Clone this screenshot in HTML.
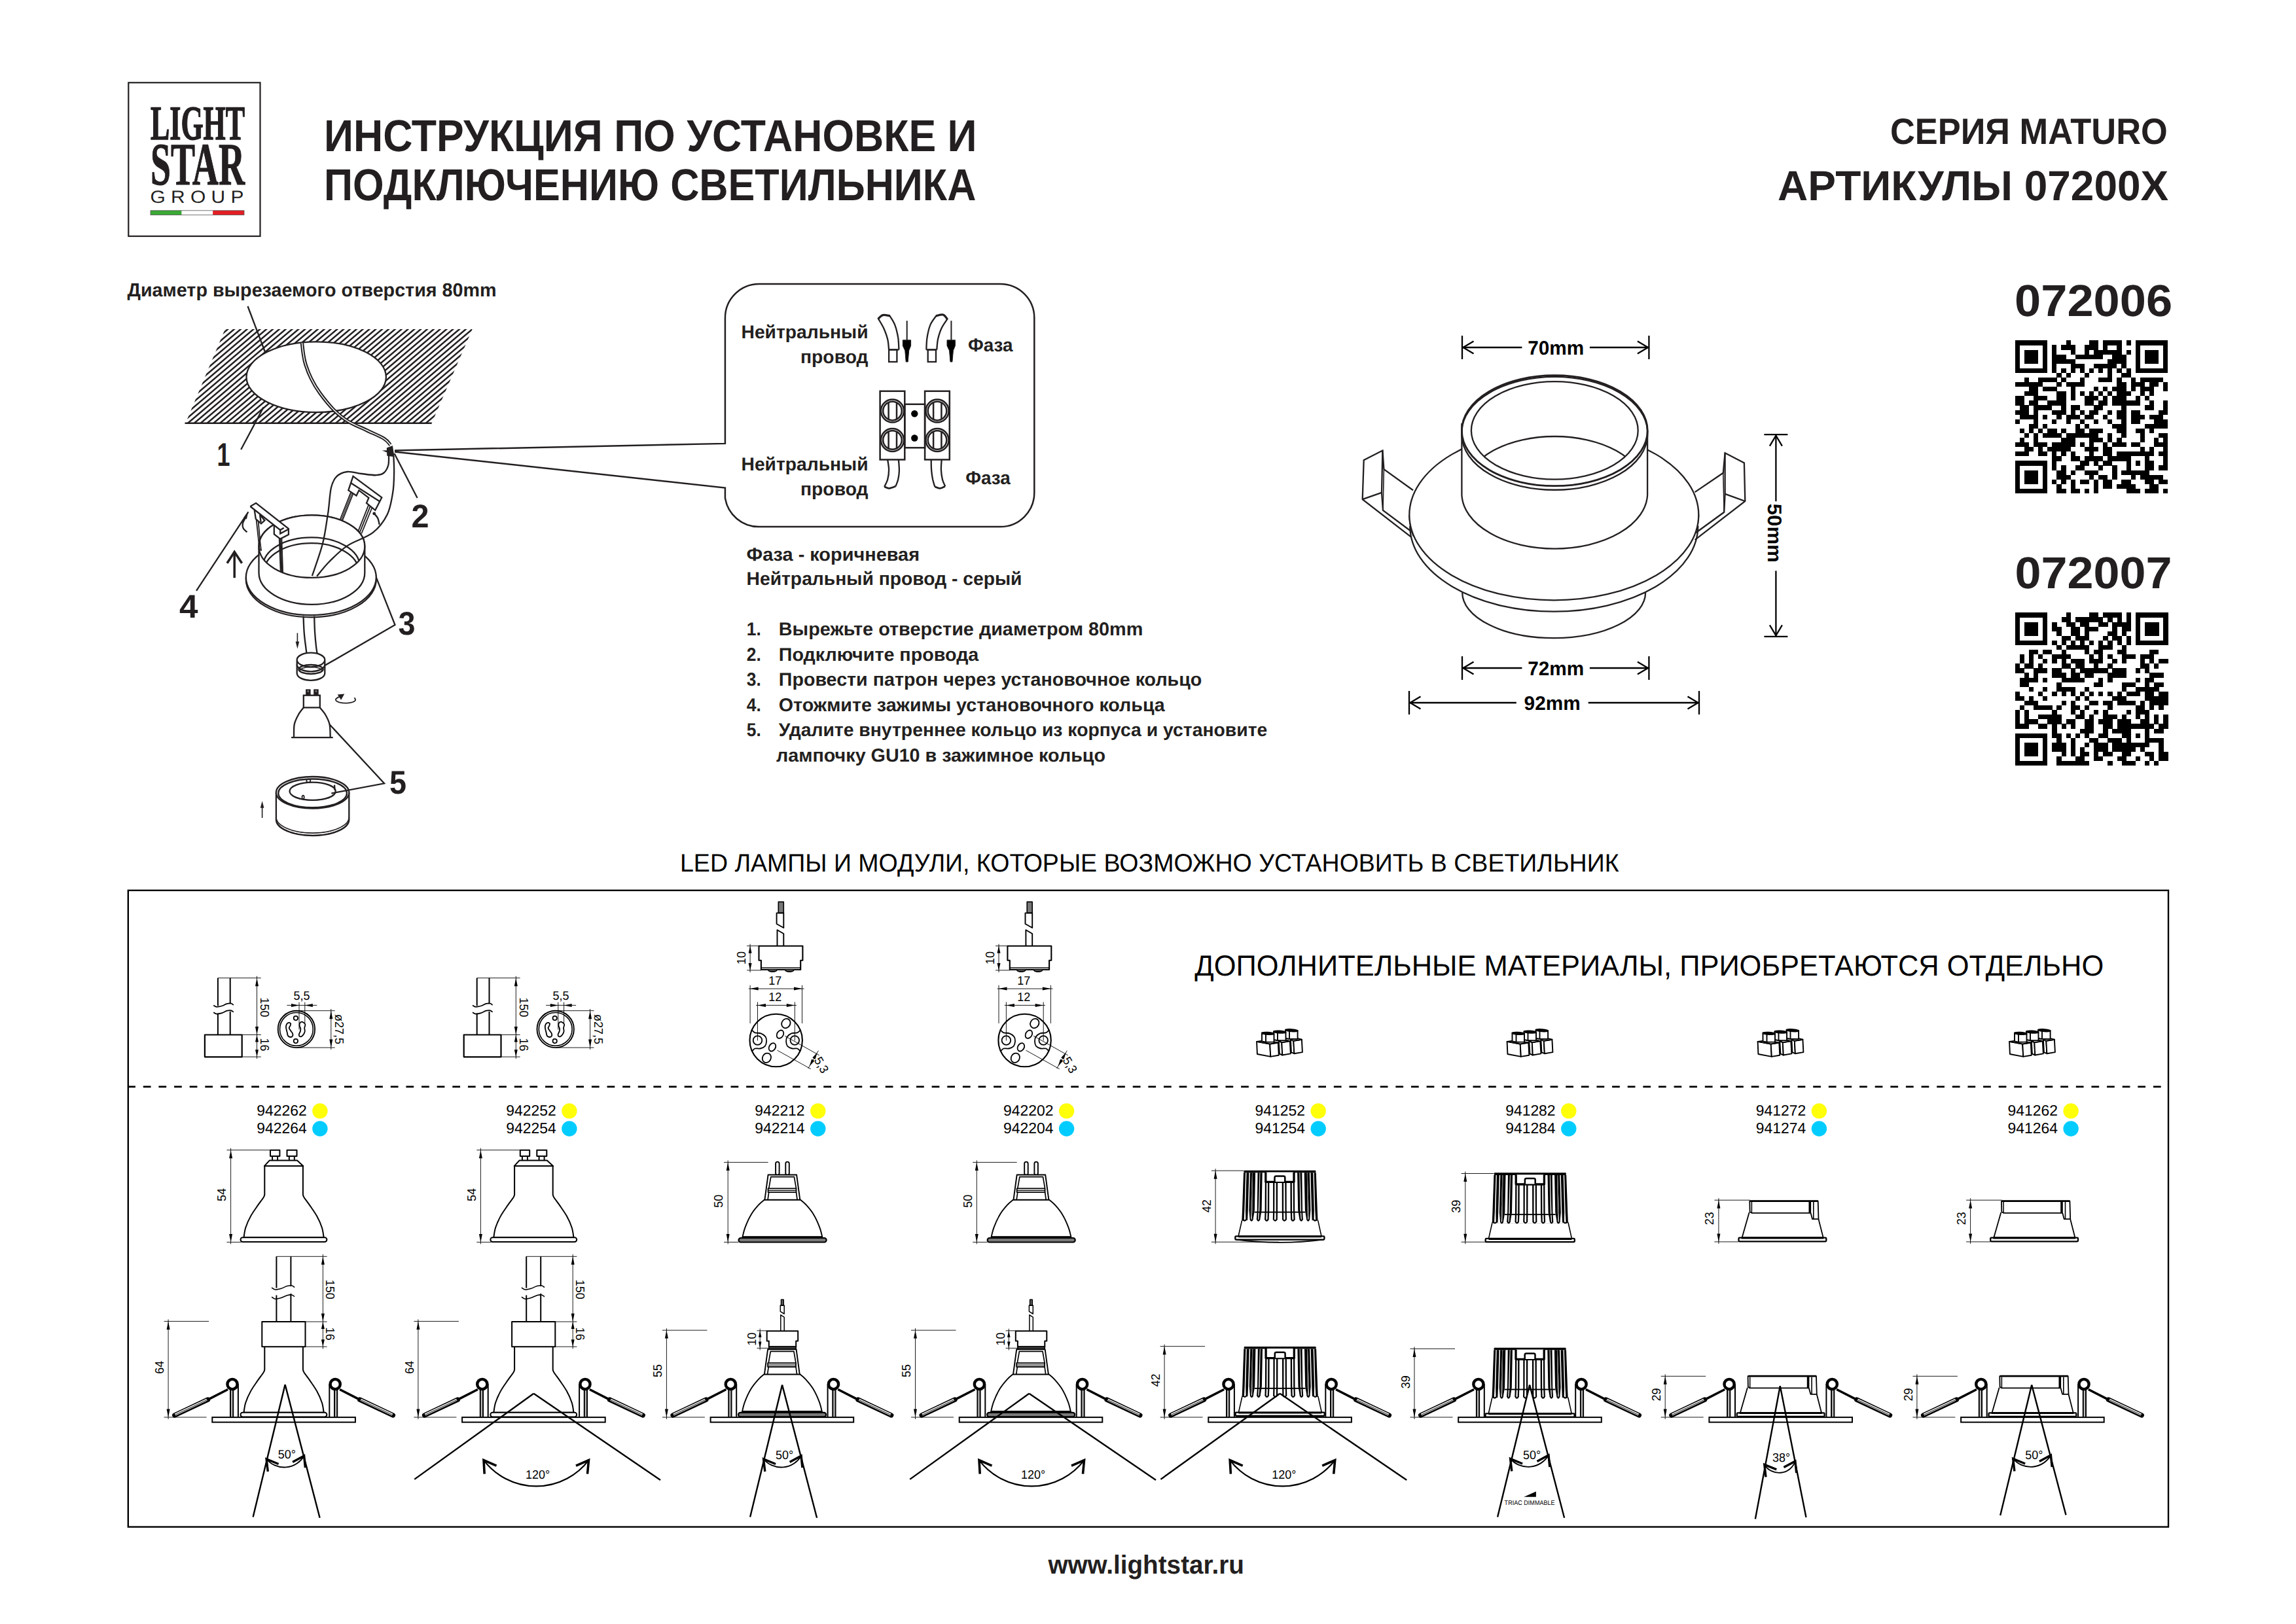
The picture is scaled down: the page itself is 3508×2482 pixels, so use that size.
<!DOCTYPE html>
<html lang="ru"><head><meta charset="utf-8"><title>Lightstar Maturo 07200X</title>
<style>
html,body{margin:0;padding:0;background:#fff;}
body{width:3508px;height:2482px;overflow:hidden;font-family:"Liberation Sans",sans-serif;}
svg{display:block;position:absolute;left:0;top:0;}
svg text{white-space:pre;}
.s{fill:none;stroke:#231f20;stroke-linecap:butt;stroke-linejoin:miter;}
.k{fill:none;stroke:#000;}
</style></head><body>
<svg xmlns="http://www.w3.org/2000/svg" width="3508" height="2482" viewBox="0 0 3508 2482" font-family="'Liberation Sans', sans-serif" fill="#231f20" stroke="none" text-rendering="geometricPrecision">
<g id="logo">
<rect x="196.3" y="126.3" width="201.2" height="234.7" stroke-width="2.2" fill="none" stroke="#231f20"/>
<text x="230" y="213" font-size="74" font-weight="700" textLength="144" lengthAdjust="spacingAndGlyphs" font-family="'Liberation Serif', serif" stroke="#231f20" stroke-width="1.5">LIGHT</text>
<text x="230" y="282" font-size="92" font-weight="700" textLength="144" lengthAdjust="spacingAndGlyphs" font-family="'Liberation Serif', serif" stroke="#231f20" stroke-width="1.2">STAR</text>
<text x="229.5" y="309.5" font-size="27" textLength="143" lengthAdjust="spacingAndGlyphs">G R O U P</text>
<rect x="230" y="321.8" width="47.6" height="6.8" fill="#3aa935"/>
<rect x="277.6" y="321.8" width="47.6" height="6.8" fill="#ffffff"/>
<rect x="325.2" y="321.8" width="47.8" height="6.8" fill="#e31e24"/>
<rect x="230" y="321.8" width="143" height="6.8" stroke-width="0.8" fill="none" stroke="#555"/>
</g>
<text x="495" y="230.8" font-size="68.4" font-weight="700" textLength="997.6" lengthAdjust="spacingAndGlyphs">ИНСТРУКЦИЯ ПО УСТАНОВКЕ И</text>
<text x="495" y="306" font-size="68.4" font-weight="700" textLength="996.4" lengthAdjust="spacingAndGlyphs">ПОДКЛЮЧЕНИЮ СВЕТИЛЬНИКА</text>
<text x="3311.8" y="219.7" font-size="55.8" font-weight="700" text-anchor="end" textLength="423.9" lengthAdjust="spacingAndGlyphs">СЕРИЯ MATURO</text>
<text x="3313.3" y="305.9" font-size="64.4" font-weight="700" text-anchor="end" textLength="597.2" lengthAdjust="spacingAndGlyphs">АРТИКУЛЫ 07200X</text>
<text x="3319.2" y="482.8" font-size="68.4" font-weight="700" text-anchor="end" textLength="241.2" lengthAdjust="spacingAndGlyphs">072006</text>
<text x="3318.5" y="898.8" font-size="68.4" font-weight="700" text-anchor="end" textLength="240" lengthAdjust="spacingAndGlyphs">072007</text>
<text x="1601.4" y="2405.3" font-size="40" font-weight="700" textLength="299.5" lengthAdjust="spacingAndGlyphs">www.lightstar.ru</text>
<text x="194.5" y="453.2" font-size="29" font-weight="700" textLength="564" lengthAdjust="spacingAndGlyphs">Диаметр вырезаемого отверстия 80mm</text>
<defs><clipPath id="hclip"><path clip-rule="evenodd" d="M343.8,503.1L721.7,503.1L659.6,646.8L283.5,646.8Z M376.5,576.2A106.7,53.9 0 1 0 589.9,576.2A106.7,53.9 0 1 0 376.5,576.2Z"/></clipPath></defs>
<g class="s" stroke-width="2.5"><path clip-path="url(#hclip)" d="M68.2,648.8L242.3,501.1M78,648.8L252.1,501.1M87.9,648.8L261.9,501.1M97.7,648.8L271.8,501.1M107.5,648.8L281.6,501.1M117.4,648.8L291.4,501.1M127.2,648.8L301.3,501.1M137,648.8L311.1,501.1M146.9,648.8L320.9,501.1M156.7,648.8L330.8,501.1M166.5,648.8L340.6,501.1M176.3,648.8L350.4,501.1M186.2,648.8L360.2,501.1M196,648.8L370.1,501.1M205.8,648.8L379.9,501.1M215.7,648.8L389.7,501.1M225.5,648.8L399.6,501.1M235.3,648.8L409.4,501.1M245.2,648.8L419.2,501.1M255,648.8L429.1,501.1M264.8,648.8L438.9,501.1M274.6,648.8L448.7,501.1M284.5,648.8L458.5,501.1M294.3,648.8L468.4,501.1M304.1,648.8L478.2,501.1M314,648.8L488,501.1M323.8,648.8L497.9,501.1M333.6,648.8L507.7,501.1M343.5,648.8L517.5,501.1M353.3,648.8L527.4,501.1M363.1,648.8L537.2,501.1M372.9,648.8L547,501.1M382.8,648.8L556.8,501.1M392.6,648.8L566.7,501.1M402.4,648.8L576.5,501.1M412.3,648.8L586.3,501.1M422.1,648.8L596.2,501.1M431.9,648.8L606,501.1M441.8,648.8L615.8,501.1M451.6,648.8L625.7,501.1M461.4,648.8L635.5,501.1M471.2,648.8L645.3,501.1M481.1,648.8L655.1,501.1M490.9,648.8L665,501.1M500.7,648.8L674.8,501.1M510.6,648.8L684.6,501.1M520.4,648.8L694.5,501.1M530.2,648.8L704.3,501.1M540.1,648.8L714.1,501.1M549.9,648.8L724,501.1M559.7,648.8L733.8,501.1M569.5,648.8L743.6,501.1M579.4,648.8L753.4,501.1M589.2,648.8L763.3,501.1M599,648.8L773.1,501.1M608.9,648.8L782.9,501.1M618.7,648.8L792.8,501.1M628.5,648.8L802.6,501.1M638.4,648.8L812.4,501.1M648.2,648.8L822.3,501.1M658,648.8L832.1,501.1"/>
<line x1="282.5" y1="646.8" x2="659.6" y2="646.8" stroke-width="2.6"/>
<ellipse cx="483.2" cy="576.2" rx="106.7" ry="53.9" stroke-width="2.3"/>
</g>
<g class="s" stroke-width="2.3">
<line x1="378.5" y1="468" x2="405" y2="538"/>
<line x1="402.6" y1="622.4" x2="368.2" y2="687"/>
<line x1="602.5" y1="693" x2="637.6" y2="761"/>
<line x1="379.4" y1="782.3" x2="300" y2="902.8"/>
<path d="M574.4,881.3L603.5,955.1L496.3,1017.1"/>
<path d="M461.4,524C461.8,527 462.7,536.4 463.6,541.9C464.5,547.4 464.9,550.9 466.9,557.1C468.9,563.3 472,571.6 475.6,578.9C479.2,586.2 482.9,592.7 488.7,600.7C494.5,608.7 503.1,619.5 510.4,626.8C517.6,634 523.9,639.1 532.2,644.2C540.5,649.3 550.9,653.1 560,657.5C569.1,661.9 580.6,666.5 586.7,670.3C592.8,674 594.9,678.4 596.5,680" stroke-width="5.4"/>
</g>
<path d="M461.4,524C461.8,527 462.7,536.4 463.6,541.9C464.5,547.4 464.9,550.9 466.9,557.1C468.9,563.3 472,571.6 475.6,578.9C479.2,586.2 482.9,592.7 488.7,600.7C494.5,608.7 503.1,619.5 510.4,626.8C517.6,634 523.9,639.1 532.2,644.2C540.5,649.3 550.9,653.1 560,657.5C569.1,661.9 580.6,666.5 586.7,670.3C592.8,674 594.9,678.4 596.5,680" stroke-width="1.4" fill="none" stroke="#fff"/>
<path d="M590.8,684.4L599.9,680.9L602.6,698.2L591.3,696.7Z" fill="#231f20"/>
<path d="M583.7,688.5L591.3,688.3L591.3,691.5Z" fill="#231f20"/>
<g class="s" stroke-width="2.3">
</g>
<g class="s" stroke-width="2.3">
<ellipse cx="475.3" cy="885.5" rx="99.5" ry="57.8" fill="#fff"/>
<ellipse cx="475.3" cy="882.3" rx="99.5" ry="57.8" fill="#fff"/>
<path d="M395.5,835.1 L395.5,875.6 A80.9,48.3 0 0 0 557.3,875.6 L557.3,835.1 A80.9,47.8 0 0 0 395.5,835.1Z" fill="#fff"/>
<defs><clipPath id="cyl"><ellipse cx="476.4" cy="835.1" rx="80.9" ry="47.8"/></clipPath></defs>
<ellipse cx="476.4" cy="835.1" rx="80.9" ry="47.8" fill="#fff"/>
<g clip-path="url(#cyl)">
<ellipse cx="475.8" cy="864.9" rx="73.7" ry="43.5"/>
<ellipse cx="475.8" cy="872.8" rx="72" ry="42.6"/>
</g>
<path d="M594,695.9C593.9,698.4 594.5,706.3 593.3,710.7C592.1,715.1 589.7,719.9 586.6,722.5C583.5,725.1 580.5,726 574.8,726.2C569.1,726.5 560,724.9 552.6,724C545.2,723.1 536.9,720.3 530.5,721C524.1,721.7 518.3,724.4 514.2,728.4C510.1,732.4 508.1,737.1 506.1,744.7C504.1,752.4 503.3,767.3 502.4,774.3C501.5,781.3 502.4,777.1 500.8,786.5C499.2,795.9 497,815.2 493,830.8C489,846.4 479.6,871.9 476.9,880.1"/>
<path d="M601.4,697.4C601.5,701.6 602.3,713.3 602.1,722.5C601.9,731.7 602,741.8 600.2,752.5C598.5,763.2 596.7,776.2 591.6,786.5C586.5,796.8 579.6,806.3 569.5,814.2C559.4,822.1 541.8,826.7 530.7,834.1C519.6,841.5 510.8,850.7 503,858.5C495.2,866.3 487.2,877 484.1,880.7"/>
<path d="M382.4,774L391.1,768.8L440.9,808.1L440.9,817L428.2,823.6L418.8,816.4L418.8,802.6" fill="#fff"/>
<path d="M382.4,774L428.2,810L428.2,815.5L440.9,808.7"/>
<path d="M428.2,810L433.7,806.7"/>
<path d="M388.8,779.8L390.8,793.1L399,800.3L404.4,795.4L397.1,786.5"/>
<path d="M397.1,786.5L398.6,798.1"/>
<path d="M391.7,794.8L396.6,840.2L399,840.8L397.7,830.8L394.6,796.5" stroke-width="1.8"/>
<path d="M426.7,823.1L428.7,873.5L432.1,874.3L430.4,823.1" stroke-width="1.8"/>
<path d="M428.4,823.6L430.4,873.8"/>
<path d="M539.5,727.8L583.3,760.4L573.3,779.8L560,768.8L563.4,760.8L548.4,749.4L544.5,757.5L532.3,749.4Z" fill="#fff"/>
<path d="M536.2,738.3L580,766.3"/>
<path d="M536.2,752.1L519.6,794" stroke-width="1.8"/>
<path d="M539.8,753.8L523.1,795.6" stroke-width="1.8"/>
<path d="M538,752.9L521.4,794.8" stroke-width="1.2"/>
<path d="M563,772.1L547.3,811.8" stroke-width="1.8"/>
<path d="M565.6,774.1L549.7,813.6" stroke-width="1.8"/>
<path d="M568.4,776L552.3,815.5" stroke-width="1.8"/>
<path d="M377.5,813.3C376.6,812.3 372.8,809.8 371.7,807.5C370.6,805.3 370.3,802.6 370.9,799.8C371.5,797 374.6,792.4 375.3,790.9"/>
<path d="M572.2,785.4C573.1,786.5 576,789.3 577.2,792C578.5,794.8 579.3,800.2 579.7,801.8"/>
</g>
<path d="M379.3,782.3L372.2,790.9L376.9,793.4Z" fill="#231f20"/>
<circle cx="571.7" cy="784.9" r="2.4" fill="#231f20"/>
<g class="s" stroke-width="3.5">
<line x1="358.2" y1="883.2" x2="358.2" y2="845"/>
<path d="M347,860.7L358.2,843.5L369.6,860.7"/>
</g>
<g class="s" stroke-width="2.3">
<path d="M463.5,941.5C463.7,945.7 464.1,959.1 464.7,966.8C465.3,974.5 466.4,982.6 467.1,987.9C467.7,993.1 468.2,996.6 468.5,998.4"/>
<path d="M480.2,941.5C480.3,945.7 480.6,959.1 481.1,966.8C481.6,974.5 482.4,982.6 483,987.9C483.5,993.1 484.3,996.6 484.6,998.4"/>
<path d="M453.7,1008.5 L453.7,1029 A21.3,10.8 0 0 0 496.3,1029 L496.3,1008.5 A21.3,10.8 0 0 0 453.7,1008.5 A21.3,10.8 0 0 0 496.3,1008.5" fill="#fff"/>
<path d="M453.7,1015.5 A21.3,10.8 0 0 0 496.3,1015.5"/>
<ellipse cx="475" cy="1023" rx="18.7" ry="7"/>
<ellipse cx="475" cy="1024.6" rx="16.8" ry="5.1" stroke-width="1.6"/>
<rect x="463.8" y="1062.7" width="25" height="18.7"/>
<path d="M463.8,1081.5C462.5,1083.2 458.4,1087.7 456.1,1092C453.7,1096.3 450.9,1101.4 449.7,1107.2C448.6,1113.1 449.2,1123.8 449,1127.1"/>
<path d="M488.8,1081.5C490.2,1083.2 494.5,1087.7 497,1092C499.5,1096.3 502.3,1101.4 503.6,1107.2C504.8,1113.1 504.5,1123.8 504.7,1127.1"/>
<path d="M445.1,1127.1L508.7,1127.1"/>
<path d="M541.5,1066.3C541.7,1067 544.2,1069.6 542.6,1070.9C541.1,1072.3 536.2,1074.1 532.1,1074.4C528,1074.8 521.3,1074.1 518.1,1073.3C514.9,1072.4 513.1,1070.6 512.9,1069.3C512.7,1068 515.3,1066.5 516.9,1065.6C518.5,1064.7 521.8,1064.2 522.7,1063.9" stroke-width="1.8"/>
<path d="M421.9,1211.3 L421.9,1252.8 A55.7,24.3 0 0 0 533.3,1252.8 L533.3,1211.3" fill="#fff"/>
<path d="M421.9,1248.8 A55.7,24.3 0 0 0 533.3,1248.8" stroke-width="1.6"/>
<path d="M422.9,1256.8 A55.7,24.3 0 0 0 532.3,1256.8" stroke-width="1.6"/>
<ellipse cx="477.6" cy="1211.3" rx="55.7" ry="24.3" fill="#fff"/>
<ellipse cx="477.6" cy="1212.3" rx="52.4" ry="21.8"/>
<ellipse cx="477.6" cy="1209.2" rx="35.1" ry="13.6"/>
<path d="M445.5,1214.4 A32.8,10.5 0 0 0 509.9,1214.4" stroke-width="1.6"/>
<ellipse cx="471.3" cy="1193.3" rx="3" ry="2.6" stroke-width="1.8"/>
<ellipse cx="463.1" cy="1218.4" rx="1.6" ry="2.8" stroke-width="1.8"/>
<path d="M511,1199.6L511.5,1207.8"/>
<path d="M503.6,1107.2L587.1,1197.3L506.4,1212.5"/>
</g>
<rect x="467.1" y="1053.4" width="7.5" height="8.9" fill="#231f20"/>
<rect x="479.2" y="1053.4" width="7.5" height="8.9" fill="#231f20"/>
<rect x="469.6" y="1055.3" width="2.3" height="2.3" fill="#888"/>
<rect x="481.8" y="1055.3" width="2.3" height="2.3" fill="#888"/>
<path d="M515.7,1061.6L526.3,1060.4L521.1,1069.8Z" fill="#231f20"/>
<g class="s" stroke-width="1.6">
<line x1="454.4" y1="967.5" x2="454.4" y2="984.4"/>
<line x1="400.6" y1="1250" x2="400.6" y2="1232.4"/>
</g>
<path d="M451.6,980.4L457.2,980.4L454.4,991.4Z" fill="#231f20"/>
<path d="M397.8,1234.7L403.4,1234.7L400.6,1224.2Z" fill="#231f20"/>
<text x="331.5" y="711.7" font-size="50" font-weight="700" textLength="20" lengthAdjust="spacingAndGlyphs">1</text>
<text x="628.5" y="805.8" font-size="50" font-weight="700" textLength="27" lengthAdjust="spacingAndGlyphs">2</text>
<text x="608.5" y="969.5" font-size="50" font-weight="700" textLength="26" lengthAdjust="spacingAndGlyphs">3</text>
<text x="274" y="944" font-size="50" font-weight="700" textLength="28.5" lengthAdjust="spacingAndGlyphs">4</text>
<text x="595" y="1213" font-size="50" font-weight="700" textLength="26" lengthAdjust="spacingAndGlyphs">5</text>
<g id="callout" class="s" stroke-width="2.5">
<path d="M603,688.5 L1107.9,677.9 L1107.9,486 A52,52 0 0 1 1159.9,434 L1528.3,434 A52,52 0 0 1 1580.3,486 L1580.3,753 A52,52 0 0 1 1528.3,805 L1159.9,805 A52,52 0 0 1 1107.9,761 L1107.9,745.6 L603,690.5"/>
<rect x="1344.6" y="597.8" width="37.7" height="104.7"/>
<rect x="1413.1" y="597.8" width="37.7" height="104.7"/>
<rect x="1382.3" y="617.8" width="30.8" height="66.5"/>
<circle cx="1363.5" cy="628.1" r="17.5" fill="#fff"/>
<circle cx="1363.5" cy="628.1" r="14.3"/>
<line x1="1357.6" y1="615.1" x2="1357.6" y2="641.1"/>
<line x1="1370" y1="615.4" x2="1370" y2="640.9"/>
<circle cx="1363.5" cy="672.5" r="17.5" fill="#fff"/>
<circle cx="1363.5" cy="672.5" r="14.3"/>
<line x1="1357.6" y1="659.5" x2="1357.6" y2="685.5"/>
<line x1="1370" y1="659.7" x2="1370" y2="685.2"/>
<circle cx="1432" cy="628.1" r="17.5" fill="#fff"/>
<circle cx="1432" cy="628.1" r="14.3"/>
<line x1="1426.1" y1="615.1" x2="1426.1" y2="641.1"/>
<line x1="1438.4" y1="615.4" x2="1438.4" y2="640.9"/>
<circle cx="1432" cy="672.5" r="17.5" fill="#fff"/>
<circle cx="1432" cy="672.5" r="14.3"/>
<line x1="1426.1" y1="659.5" x2="1426.1" y2="685.5"/>
<line x1="1438.4" y1="659.7" x2="1438.4" y2="685.2"/>
</g>
<circle cx="1397.3" cy="632.3" r="5.2" fill="#000"/>
<circle cx="1397.3" cy="669.5" r="5.2" fill="#000"/>
<g class="s" stroke-width="2.3">
<path d="M1341.9,487C1343.2,489.4 1347.6,496 1350,501.3C1352.4,506.5 1354.8,513 1356.2,518.5C1357.5,524.1 1357.8,531.9 1358.1,534.5"/>
<path d="M1358.6,481.6C1360.1,484 1365,490.6 1367.2,496.4C1369.5,502.1 1371.1,509.7 1372.2,516.1C1373.2,522.4 1373.2,531.5 1373.4,534.5"/>
<path d="M1358.1,534.5L1373.4,534.5"/>
<path d="M1341.4,487.7C1342.6,486.7 1345.7,482.4 1348.8,481.6C1351.8,480.8 1358,482.6 1359.9,482.8" stroke-width="3.2"/>
<rect x="1358.1" y="534.5" width="12.3" height="18.5"/>
<path d="M1431.3,481.6C1429.6,484 1423.9,490.6 1421.4,496.4C1419,502.1 1417.5,509.7 1416.5,516.1C1415.5,522.4 1415.5,531.5 1415.3,534.5"/>
<path d="M1447.3,487.7C1445.9,490 1441.1,496.1 1438.7,501.3C1436.3,506.4 1434.2,513 1433,518.5C1431.8,524.1 1431.6,531.9 1431.3,534.5"/>
<path d="M1415.3,534.5L1431.3,534.5"/>
<path d="M1430,482.8C1431.9,482.5 1438.2,480.1 1441.1,481.1C1444.1,482 1446.7,487.2 1447.8,488.5" stroke-width="3.2"/>
<rect x="1417.7" y="534.5" width="12.3" height="18.5"/>
<line x1="1385.7" y1="490.2" x2="1385.7" y2="521" stroke-width="2"/>
<path d="M1379.3,519.8L1391.6,519.8L1391.6,528.4L1388.7,535.8L1387.2,553L1384.2,553L1382.8,535.8L1379.3,528.4Z" stroke-width="1" fill="#000"/>
<line x1="1453.4" y1="490.2" x2="1453.4" y2="521" stroke-width="2"/>
<path d="M1447,519.8L1459.4,519.8L1459.4,528.4L1456.4,535.8L1454.9,553L1452,553L1450.5,535.8L1447,528.4Z" stroke-width="1" fill="#000"/>
<path d="M1356.2,702.5C1356.5,705.1 1358.1,713 1358.1,718C1358.1,723.1 1357.3,728.5 1356.2,732.8C1355,737.1 1352.1,742 1351.2,743.9"/>
<path d="M1372.9,702.5C1373.1,705.3 1374,714.2 1373.9,719.3C1373.8,724.3 1373.1,728.8 1372.2,732.8C1371.3,736.8 1369.1,741.4 1368.5,743.2"/>
<path d="M1351.2,743.9C1352.5,744.3 1355.7,746.5 1358.6,746.4C1361.5,746.2 1366.8,743.7 1368.5,743.2" stroke-width="2.8"/>
<path d="M1422.7,702.5C1422.7,705.3 1422.7,714.2 1423.2,719.3C1423.6,724.3 1424.3,728.7 1425.1,732.8C1426,736.9 1427.8,742 1428.3,743.9"/>
<path d="M1438.7,702.5C1438.5,705.1 1437.7,713 1437.9,718C1438.1,723.1 1438.9,728.6 1439.9,732.8C1440.9,737 1443.4,741.4 1444.1,743.2"/>
<path d="M1428.3,743.9C1429.6,744.3 1433.6,746.5 1436.2,746.4C1438.8,746.2 1442.8,743.7 1444.1,743.2" stroke-width="2.8"/>
</g>
<text x="1326.5" y="516.6" font-size="28.5" font-weight="700" text-anchor="end" textLength="194" lengthAdjust="spacingAndGlyphs">Нейтральный</text>
<text x="1326.5" y="555" font-size="28.5" font-weight="700" text-anchor="end" textLength="103.5" lengthAdjust="spacingAndGlyphs">провод</text>
<text x="1479" y="537" font-size="28.5" font-weight="700" textLength="68.5" lengthAdjust="spacingAndGlyphs">Фаза</text>
<text x="1326.5" y="719.3" font-size="28.5" font-weight="700" text-anchor="end" textLength="194" lengthAdjust="spacingAndGlyphs">Нейтральный</text>
<text x="1326.5" y="757.4" font-size="28.5" font-weight="700" text-anchor="end" textLength="103.5" lengthAdjust="spacingAndGlyphs">провод</text>
<text x="1475.3" y="739.5" font-size="28.5" font-weight="700" textLength="68.5" lengthAdjust="spacingAndGlyphs">Фаза</text>
<text x="1140.5" y="856.6" font-size="28.5" font-weight="700" textLength="264.5" lengthAdjust="spacingAndGlyphs">Фаза - коричневая</text>
<text x="1140.5" y="893.9" font-size="28.5" font-weight="700" textLength="421" lengthAdjust="spacingAndGlyphs">Нейтральный провод - серый</text>
<text x="1140.8" y="971.4000000000001" font-size="28.5" font-weight="700" textLength="22" lengthAdjust="spacingAndGlyphs">1.</text>
<text x="1189.8" y="971.4000000000001" font-size="28.5" font-weight="700" textLength="556.5" lengthAdjust="spacingAndGlyphs">Вырежьте отверстие диаметром 80mm</text>
<text x="1140.8" y="1009.8000000000001" font-size="28.5" font-weight="700" textLength="22" lengthAdjust="spacingAndGlyphs">2.</text>
<text x="1189.8" y="1009.8000000000001" font-size="28.5" font-weight="700" textLength="305.5" lengthAdjust="spacingAndGlyphs">Подключите провода</text>
<text x="1140.8" y="1048.3" font-size="28.5" font-weight="700" textLength="22" lengthAdjust="spacingAndGlyphs">3.</text>
<text x="1189.8" y="1048.3" font-size="28.5" font-weight="700" textLength="646.5" lengthAdjust="spacingAndGlyphs">Провести патрон через установочное кольцо</text>
<text x="1140.8" y="1086.7" font-size="28.5" font-weight="700" textLength="22" lengthAdjust="spacingAndGlyphs">4.</text>
<text x="1189.8" y="1086.7" font-size="28.5" font-weight="700" textLength="590" lengthAdjust="spacingAndGlyphs">Отожмите зажимы установочного кольца</text>
<text x="1140.8" y="1125.1000000000001" font-size="28.5" font-weight="700" textLength="22" lengthAdjust="spacingAndGlyphs">5.</text>
<text x="1189.8" y="1125.1000000000001" font-size="28.5" font-weight="700" textLength="746.5" lengthAdjust="spacingAndGlyphs">Удалите внутреннее кольцо из корпуса и установите</text>
<text x="1186" y="1163.5" font-size="28.5" font-weight="700" textLength="503" lengthAdjust="spacingAndGlyphs">лампочку GU10 в зажимное кольцо</text>
<g class="s" stroke-width="2.3">
<path d="M2159,749.3L2114.4,717.2L2112.4,688.5L2083.7,703.3L2081.7,763.2L2156.2,820.9"/>
<path d="M2112.4,688.5L2111,752.9L2113,780L2155.3,811.5"/>
<path d="M2081.7,763.2L2111,752.9"/>
<path d="M2114.4,717.2L2113,780" stroke-width="1.6"/>
<path d="M2589.6,752.1L2632.8,722.8L2635.6,692.2L2664.9,707.5L2666.3,766L2589.6,825.1"/>
<path d="M2635.6,692.2L2635.6,754.9L2634.2,782.8L2591,814.3"/>
<path d="M2666.3,766L2635.6,754.9"/>
<path d="M2632.8,722.8L2634.2,782.8" stroke-width="1.6"/>
<path d="M2153.2,786.9 L2154.2,797.3 A221,130.5 0 0 0 2594.3,797.3 L2595.3,786.9" fill="#fff"/>
<path d="M2234.2,905.7 A139.9,69.4 0 0 0 2514.1,905.7" fill="#fff"/>
<path d="M2153.2,786.9 C2153.2,804.2 2156.2,812.9 2159.2,819.8" stroke-width="1.2"/>
<ellipse cx="2374.3" cy="786.9" rx="221" ry="130.5" fill="#fff"/>
<defs><clipPath id="pf"><rect x="2148.2" y="803.7" width="452.1" height="157.7"/></clipPath></defs>
<ellipse cx="2374.3" cy="804.2" rx="220" ry="130.5" clip-path="url(#pf)"/>
<path d="M2233.4,658.2 L2233.4,756.3 A141.9,84.5 0 0 0 2517.1,756.3 L2517.1,658.2 A141.9,84.5 0 0 0 2233.4,658.2Z" fill="#fff"/>
<path d="M2233.4,647 L2233.4,666.5 A141.9,84.5 0 0 0 2517.1,666.5 L2517.1,658.2"/>
<ellipse cx="2375.3" cy="658.2" rx="141.9" ry="84.5" stroke-width="2.8"/>
<ellipse cx="2375.3" cy="657.9" rx="127.4" ry="74.7"/>
<defs><clipPath id="pin"><ellipse cx="2375.3" cy="657.9" rx="127.4" ry="74.7"/></clipPath></defs>
<ellipse cx="2375.3" cy="742.3" rx="133.8" ry="75.3" clip-path="url(#pin)"/>
</g>
<g class="k" stroke-width="2.3">
<line x1="2234" y1="513" x2="2234" y2="549"/>
<line x1="2519.4" y1="513" x2="2519.4" y2="549"/>
<line x1="2235" y1="531" x2="2325.4" y2="531"/>
<line x1="2428.9" y1="531" x2="2518.4" y2="531"/>
<path d="M2251.5,521.5L2235.5,531L2251.5,540.5"/>
<path d="M2501.9,521.5L2517.9,531L2501.9,540.5"/>
<line x1="2234" y1="1003" x2="2234" y2="1039"/>
<line x1="2519.4" y1="1003" x2="2519.4" y2="1039"/>
<line x1="2235" y1="1021" x2="2325.4" y2="1021"/>
<line x1="2428.9" y1="1021" x2="2518.4" y2="1021"/>
<path d="M2251.5,1011.5L2235.5,1021L2251.5,1030.5"/>
<path d="M2501.9,1011.5L2517.9,1021L2501.9,1030.5"/>
<line x1="2153" y1="1056" x2="2153" y2="1092"/>
<line x1="2596" y1="1056" x2="2596" y2="1092"/>
<line x1="2154" y1="1074" x2="2316.8" y2="1074"/>
<line x1="2426.7" y1="1074" x2="2595" y2="1074"/>
<path d="M2170.5,1064.5L2154.5,1074L2170.5,1083.5"/>
<path d="M2578.5,1064.5L2594.5,1074L2578.5,1083.5"/>
<line x1="2695.4" y1="664.2" x2="2731.4" y2="664.2"/>
<line x1="2695.4" y1="972.8" x2="2731.4" y2="972.8"/>
<line x1="2713.4" y1="665.2" x2="2713.4" y2="766.2"/>
<line x1="2713.4" y1="872.4" x2="2713.4" y2="971.8"/>
<path d="M2703.9,681.7L2713.4,665.7L2722.9,681.7"/>
<path d="M2703.9,955.3L2713.4,971.3L2722.9,955.3"/>
</g>
<text x="2377.2" y="541.5" font-size="30" font-weight="700" text-anchor="middle" textLength="86" lengthAdjust="spacingAndGlyphs" fill="#000">70mm</text>
<text x="2377.2" y="1032" font-size="30" font-weight="700" text-anchor="middle" textLength="86" lengthAdjust="spacingAndGlyphs" fill="#000">72mm</text>
<text x="2371.6" y="1084.5" font-size="30" font-weight="700" text-anchor="middle" textLength="86" lengthAdjust="spacingAndGlyphs" fill="#000">92mm</text>
<text transform="translate(2701.2000000000003,814.8) rotate(90)" font-size="30" font-weight="700" text-anchor="middle" textLength="90" lengthAdjust="spacingAndGlyphs" fill="#000">50mm</text>
<rect x="195.8" y="1360.8" width="3117.2" height="972.8" fill="none" stroke="#000" stroke-width="2.4"/>
<line x1="195.18" y1="1660.8" x2="3312" y2="1660.8" stroke="#000" stroke-width="2.7" stroke-dasharray="11.75 11.874"/>
<text x="1039" y="1331.6" font-size="38.7" textLength="1434.5" lengthAdjust="spacingAndGlyphs" fill="#000">LED ЛАМПЫ И МОДУЛИ, КОТОРЫЕ ВОЗМОЖНО УСТАНОВИТЬ В СВЕТИЛЬНИК</text>
<text x="1825.3" y="1490.6" font-size="44.3" textLength="1389" lengthAdjust="spacingAndGlyphs" fill="#000">ДОПОЛНИТЕЛЬНЫЕ МАТЕРИАЛЫ, ПРИОБРЕТАЮТСЯ ОТДЕЛЬНО</text>
<text x="392.3" y="1705.1" font-size="23" textLength="76.4" lengthAdjust="spacingAndGlyphs" fill="#000">942262</text>
<text x="392.3" y="1731.6" font-size="23" textLength="76.4" lengthAdjust="spacingAndGlyphs" fill="#000">942264</text>
<circle cx="488.9" cy="1697.9" r="11.7" fill="#ffff0a"/>
<circle cx="488.9" cy="1725" r="11.7" fill="#00ccff"/>
<text x="773.3" y="1705.1" font-size="23" textLength="76.4" lengthAdjust="spacingAndGlyphs" fill="#000">942252</text>
<text x="773.3" y="1731.6" font-size="23" textLength="76.4" lengthAdjust="spacingAndGlyphs" fill="#000">942254</text>
<circle cx="869.9" cy="1697.9" r="11.7" fill="#ffff0a"/>
<circle cx="869.9" cy="1725" r="11.7" fill="#00ccff"/>
<text x="1153.2" y="1705.1" font-size="23" textLength="76.4" lengthAdjust="spacingAndGlyphs" fill="#000">942212</text>
<text x="1153.2" y="1731.6" font-size="23" textLength="76.4" lengthAdjust="spacingAndGlyphs" fill="#000">942214</text>
<circle cx="1249.8" cy="1697.9" r="11.7" fill="#ffff0a"/>
<circle cx="1249.8" cy="1725" r="11.7" fill="#00ccff"/>
<text x="1533" y="1705.1" font-size="23" textLength="76.4" lengthAdjust="spacingAndGlyphs" fill="#000">942202</text>
<text x="1533" y="1731.6" font-size="23" textLength="76.4" lengthAdjust="spacingAndGlyphs" fill="#000">942204</text>
<circle cx="1629.6" cy="1697.9" r="11.7" fill="#ffff0a"/>
<circle cx="1629.6" cy="1725" r="11.7" fill="#00ccff"/>
<text x="1917.6" y="1705.1" font-size="23" textLength="76.4" lengthAdjust="spacingAndGlyphs" fill="#000">941252</text>
<text x="1917.6" y="1731.6" font-size="23" textLength="76.4" lengthAdjust="spacingAndGlyphs" fill="#000">941254</text>
<circle cx="2014.2" cy="1697.9" r="11.7" fill="#ffff0a"/>
<circle cx="2014.2" cy="1725" r="11.7" fill="#00ccff"/>
<text x="2300.2" y="1705.1" font-size="23" textLength="76.4" lengthAdjust="spacingAndGlyphs" fill="#000">941282</text>
<text x="2300.2" y="1731.6" font-size="23" textLength="76.4" lengthAdjust="spacingAndGlyphs" fill="#000">941284</text>
<circle cx="2396.8" cy="1697.9" r="11.7" fill="#ffff0a"/>
<circle cx="2396.8" cy="1725" r="11.7" fill="#00ccff"/>
<text x="2682.8" y="1705.1" font-size="23" textLength="76.4" lengthAdjust="spacingAndGlyphs" fill="#000">941272</text>
<text x="2682.8" y="1731.6" font-size="23" textLength="76.4" lengthAdjust="spacingAndGlyphs" fill="#000">941274</text>
<circle cx="2779.4" cy="1697.9" r="11.7" fill="#ffff0a"/>
<circle cx="2779.4" cy="1725" r="11.7" fill="#00ccff"/>
<text x="3067.5" y="1705.1" font-size="23" textLength="76.4" lengthAdjust="spacingAndGlyphs" fill="#000">941262</text>
<text x="3067.5" y="1731.6" font-size="23" textLength="76.4" lengthAdjust="spacingAndGlyphs" fill="#000">941264</text>
<circle cx="3164.1" cy="1697.9" r="11.7" fill="#ffff0a"/>
<circle cx="3164.1" cy="1725" r="11.7" fill="#00ccff"/>
<g class="k" stroke-width="2.0" stroke-linejoin="round">
<rect x="312.9" y="1581.5" width="56.8" height="33.8" stroke-width="2.2"/>
<line x1="332.9" y1="1494.7" x2="332.9" y2="1537.4"/>
<line x1="332.9" y1="1548.6" x2="332.9" y2="1581.5"/>
<line x1="351.7" y1="1494.7" x2="351.7" y2="1534.4"/>
<line x1="351.7" y1="1545.8" x2="351.7" y2="1581.5"/>
<path d="M326.2,1536.4C327,1536.8 329,1538.7 331.2,1538.8C333.4,1538.9 336.8,1538 339.4,1537.3C341.9,1536.5 344.2,1534.7 346.4,1534.1C348.7,1533.5 351.2,1533.2 352.9,1533.5C354.6,1533.8 356.1,1535.5 356.8,1535.9" stroke-width="1.7"/>
<path d="M326.2,1547.3C327,1547.7 329,1549.5 331.2,1549.6C333.4,1549.7 336.8,1548.9 339.4,1548.1C341.9,1547.3 344.2,1545.5 346.4,1544.9C348.7,1544.3 351.2,1544 352.9,1544.3C354.6,1544.6 356.1,1546.3 356.8,1546.7" stroke-width="1.7"/>
<circle cx="452.9" cy="1572.9" r="28.2" stroke-width="1.9"/>
<circle cx="452.9" cy="1572.9" r="25.4" stroke-width="1.6"/>
<circle cx="451.9" cy="1556.1" r="3.2" stroke-width="1.8"/>
<circle cx="451.9" cy="1591.1" r="3.2" stroke-width="1.8"/>
<path d="M441.7,1562.9C442.1,1563.1 443.8,1563.3 444.1,1564.1C444.3,1564.9 443.9,1566.4 443.5,1567.6C443.1,1568.8 441.6,1569.9 441.7,1571.1C441.8,1572.4 443.2,1573.9 444.1,1575.2C444.9,1576.6 446.5,1578 447,1579.4C447.5,1580.7 447.6,1582.5 447,1583.5C446.4,1584.4 444.6,1585.1 443.5,1585C442.3,1584.9 440.7,1584 439.9,1582.9C439.2,1581.8 439.2,1579.8 438.8,1578.2C438.4,1576.6 437.9,1575.1 437.6,1573.5C437.3,1571.9 436.8,1570.3 437,1568.8C437.2,1567.2 438,1565.1 438.8,1564.1C439.5,1563.1 441.2,1563.1 441.7,1562.9Z" stroke-width="1.8"/>
<path d="M464,1562.9C464.4,1563.4 466.2,1564.5 466.4,1565.8C466.6,1567.2 465.3,1569.5 465.2,1571.1C465.1,1572.8 466,1574.3 465.8,1575.8C465.6,1577.4 464.9,1579.2 464,1580.5C463.2,1581.9 461.6,1583.5 460.5,1584.1C459.4,1584.6 458.2,1584.3 457.6,1583.8C456.9,1583.3 456.6,1582.4 456.8,1581.1C456.9,1579.9 458.3,1577.9 458.8,1576.4C459.2,1575 459.5,1573.8 459.3,1572.3C459.1,1570.8 457.8,1569.1 457.6,1567.6C457.4,1566.1 457.6,1564.5 458.2,1563.5C458.8,1562.5 460.1,1561.8 461.1,1561.7C462.1,1561.6 463.6,1562.7 464,1562.9Z" stroke-width="1.8"/>
</g>
<line x1="332.9" y1="1494.7" x2="398.8" y2="1494.7" stroke="#000" stroke-width="0.9"/>
<line x1="369.7" y1="1581.5" x2="398.8" y2="1581.5" stroke="#000" stroke-width="0.9"/>
<line x1="369.7" y1="1615.2" x2="398.8" y2="1615.2" stroke="#000" stroke-width="0.9"/>
<line x1="392.5" y1="1491.8" x2="392.5" y2="1618.2" stroke="#000" stroke-width="0.9"/>
<path d="M392.5,1494.7L395,1507.2L390,1507.2Z" fill="#000" stroke="none"/>
<path d="M392.5,1581.5L390,1569L395,1569Z" fill="#000" stroke="none"/>
<path d="M392.5,1581.5L395,1592.5L390,1592.5Z" fill="#000" stroke="none"/>
<path d="M392.5,1615.2L390,1604.2L395,1604.2Z" fill="#000" stroke="none"/>
<text transform="translate(404.7,1539.4) rotate(90)" font-size="18.7" text-anchor="middle" fill="#000" textLength="30" lengthAdjust="spacingAndGlyphs" dy="0.344em">150</text>
<text transform="translate(404.7,1596.4) rotate(90)" font-size="18.7" text-anchor="middle" fill="#000" textLength="20" lengthAdjust="spacingAndGlyphs" dy="0.344em">16</text>
<line x1="438.4" y1="1536.4" x2="484.3" y2="1536.4" stroke="#000" stroke-width="0.9"/>
<line x1="457" y1="1531.7" x2="457" y2="1573.5" stroke="#000" stroke-width="0.9"/>
<line x1="465.8" y1="1531.7" x2="465.8" y2="1564.1" stroke="#000" stroke-width="0.9"/>
<path d="M457,1536.4L445,1538.9L445,1533.9Z" fill="#000" stroke="none"/>
<path d="M465.8,1536.4L477.8,1533.9L477.8,1538.9Z" fill="#000" stroke="none"/>
<text x="461.1" y="1527.6" font-size="18.7" text-anchor="middle" textLength="25" lengthAdjust="spacingAndGlyphs" fill="#000">5,5</text>
<line x1="453.5" y1="1544.7" x2="511.7" y2="1544.7" stroke="#000" stroke-width="0.9"/>
<line x1="453.5" y1="1601.1" x2="511.7" y2="1601.1" stroke="#000" stroke-width="0.9"/>
<line x1="505.8" y1="1542" x2="505.8" y2="1604.1" stroke="#000" stroke-width="0.9"/>
<path d="M505.8,1544.7L508.3,1557.2L503.3,1557.2Z" fill="#000" stroke="none"/>
<path d="M505.8,1601.1L503.3,1588.6L508.3,1588.6Z" fill="#000" stroke="none"/>
<text transform="translate(518.7,1572.9) rotate(90)" font-size="18.7" text-anchor="middle" fill="#000" textLength="46" lengthAdjust="spacingAndGlyphs" dy="0.344em">ø27,5</text>
<g class="k" stroke-width="2.0" stroke-linejoin="round">
<rect x="708.7" y="1581.5" width="56.8" height="33.8" stroke-width="2.2"/>
<line x1="728.7" y1="1494.7" x2="728.7" y2="1537.4"/>
<line x1="728.7" y1="1548.6" x2="728.7" y2="1581.5"/>
<line x1="747.5" y1="1494.7" x2="747.5" y2="1534.4"/>
<line x1="747.5" y1="1545.8" x2="747.5" y2="1581.5"/>
<path d="M722,1536.4C722.8,1536.8 724.8,1538.7 727,1538.8C729.2,1538.9 732.6,1538 735.2,1537.3C737.7,1536.5 740,1534.7 742.2,1534.1C744.5,1533.5 747,1533.2 748.7,1533.5C750.4,1533.8 751.9,1535.5 752.6,1535.9" stroke-width="1.7"/>
<path d="M722,1547.3C722.8,1547.7 724.8,1549.5 727,1549.6C729.2,1549.7 732.6,1548.9 735.2,1548.1C737.7,1547.3 740,1545.5 742.2,1544.9C744.5,1544.3 747,1544 748.7,1544.3C750.4,1544.6 751.9,1546.3 752.6,1546.7" stroke-width="1.7"/>
<circle cx="848.7" cy="1572.9" r="28.2" stroke-width="1.9"/>
<circle cx="848.7" cy="1572.9" r="25.4" stroke-width="1.6"/>
<circle cx="847.7" cy="1556.1" r="3.2" stroke-width="1.8"/>
<circle cx="847.7" cy="1591.1" r="3.2" stroke-width="1.8"/>
<path d="M837.5,1562.9C837.9,1563.1 839.6,1563.3 839.9,1564.1C840.1,1564.9 839.7,1566.4 839.3,1567.6C838.9,1568.8 837.4,1569.9 837.5,1571.1C837.6,1572.4 839,1573.9 839.9,1575.2C840.7,1576.6 842.3,1578 842.8,1579.4C843.3,1580.7 843.4,1582.5 842.8,1583.5C842.2,1584.4 840.4,1585.1 839.3,1585C838.1,1584.9 836.5,1584 835.7,1582.9C835,1581.8 835,1579.8 834.6,1578.2C834.2,1576.6 833.7,1575.1 833.4,1573.5C833.1,1571.9 832.6,1570.3 832.8,1568.8C833,1567.2 833.8,1565.1 834.6,1564.1C835.3,1563.1 837,1563.1 837.5,1562.9Z" stroke-width="1.8"/>
<path d="M859.8,1562.9C860.2,1563.4 862,1564.5 862.2,1565.8C862.4,1567.2 861.1,1569.5 861,1571.1C860.9,1572.8 861.8,1574.3 861.6,1575.8C861.4,1577.4 860.7,1579.2 859.8,1580.5C859,1581.9 857.4,1583.5 856.3,1584.1C855.2,1584.6 854,1584.3 853.4,1583.8C852.7,1583.3 852.4,1582.4 852.6,1581.1C852.7,1579.9 854.1,1577.9 854.6,1576.4C855,1575 855.3,1573.8 855.1,1572.3C854.9,1570.8 853.6,1569.1 853.4,1567.6C853.2,1566.1 853.4,1564.5 854,1563.5C854.6,1562.5 855.9,1561.8 856.9,1561.7C857.9,1561.6 859.4,1562.7 859.8,1562.9Z" stroke-width="1.8"/>
</g>
<line x1="728.7" y1="1494.7" x2="794.6" y2="1494.7" stroke="#000" stroke-width="0.9"/>
<line x1="765.5" y1="1581.5" x2="794.6" y2="1581.5" stroke="#000" stroke-width="0.9"/>
<line x1="765.5" y1="1615.2" x2="794.6" y2="1615.2" stroke="#000" stroke-width="0.9"/>
<line x1="788.3" y1="1491.8" x2="788.3" y2="1618.2" stroke="#000" stroke-width="0.9"/>
<path d="M788.3,1494.7L790.8,1507.2L785.8,1507.2Z" fill="#000" stroke="none"/>
<path d="M788.3,1581.5L785.8,1569L790.8,1569Z" fill="#000" stroke="none"/>
<path d="M788.3,1581.5L790.8,1592.5L785.8,1592.5Z" fill="#000" stroke="none"/>
<path d="M788.3,1615.2L785.8,1604.2L790.8,1604.2Z" fill="#000" stroke="none"/>
<text transform="translate(800.5,1539.4) rotate(90)" font-size="18.7" text-anchor="middle" fill="#000" textLength="30" lengthAdjust="spacingAndGlyphs" dy="0.344em">150</text>
<text transform="translate(800.5,1596.4) rotate(90)" font-size="18.7" text-anchor="middle" fill="#000" textLength="20" lengthAdjust="spacingAndGlyphs" dy="0.344em">16</text>
<line x1="834.2" y1="1536.4" x2="880.1" y2="1536.4" stroke="#000" stroke-width="0.9"/>
<line x1="852.8" y1="1531.7" x2="852.8" y2="1573.5" stroke="#000" stroke-width="0.9"/>
<line x1="861.6" y1="1531.7" x2="861.6" y2="1564.1" stroke="#000" stroke-width="0.9"/>
<path d="M852.8,1536.4L840.8,1538.9L840.8,1533.9Z" fill="#000" stroke="none"/>
<path d="M861.6,1536.4L873.6,1533.9L873.6,1538.9Z" fill="#000" stroke="none"/>
<text x="856.9" y="1527.6" font-size="18.7" text-anchor="middle" textLength="25" lengthAdjust="spacingAndGlyphs" fill="#000">5,5</text>
<line x1="849.3" y1="1544.7" x2="907.5" y2="1544.7" stroke="#000" stroke-width="0.9"/>
<line x1="849.3" y1="1601.1" x2="907.5" y2="1601.1" stroke="#000" stroke-width="0.9"/>
<line x1="901.6" y1="1542" x2="901.6" y2="1604.1" stroke="#000" stroke-width="0.9"/>
<path d="M901.6,1544.7L904.1,1557.2L899.1,1557.2Z" fill="#000" stroke="none"/>
<path d="M901.6,1601.1L899.1,1588.6L904.1,1588.6Z" fill="#000" stroke="none"/>
<text transform="translate(914.5,1572.9) rotate(90)" font-size="18.7" text-anchor="middle" fill="#000" textLength="46" lengthAdjust="spacingAndGlyphs" dy="0.344em">ø27,5</text>
<g class="k" stroke-width="1.6" stroke-linejoin="round">
<rect x="1189.3" y="1378.4" width="8" height="17" fill="#777"/>
<path d="M1186.6,1395.4L1197.3,1395.4L1197.3,1418L1186.6,1412Z" stroke-width="1.9"/>
<path d="M1197.3,1445.7L1197.3,1427L1187.5,1421.2L1187.5,1445.7" stroke-width="1.9"/>
</g>
<g class="k" stroke-width="2.1" stroke-linejoin="round">
<path d="M1159.5,1445.7L1226.4,1445.7L1226.4,1467.7L1223.2,1467.7L1223.2,1482L1162.9,1482L1162.9,1467.7L1159.5,1467.7Z"/>
<path d="M1162.9,1479.3L1223.2,1479.3" stroke-width="1.6"/>
<path d="M1173.6,1482.3 A6.8,3.2 0 0 0 1187.1,1482.3" stroke-width="1.6" fill="#555"/>
<path d="M1199.5,1482.3 A6.8,3.2 0 0 0 1213,1482.3" stroke-width="1.6" fill="#555"/>
<circle cx="1185.7" cy="1590" r="40.2"/>
</g>
<g class="k" stroke-width="1.8" stroke-linejoin="round">
<ellipse cx="1200.9" cy="1564.1" rx="6.4" ry="7.5" transform="rotate(30 1200.9 1564.1)"/>
<ellipse cx="1192" cy="1580.7" rx="4.8" ry="6.6" transform="rotate(30 1192 1580.7)"/>
<ellipse cx="1180" cy="1600.4" rx="4.8" ry="6.6" transform="rotate(30 1180 1600.4)"/>
<ellipse cx="1171.4" cy="1616.8" rx="6.4" ry="7.5" transform="rotate(30 1171.4 1616.8)"/>
<circle cx="1157.5" cy="1590" r="6.8"/>
<circle cx="1214.3" cy="1590" r="6.8"/>
<path d="M1148.8,1574.3C1149.6,1575 1151.3,1577.6 1153.6,1578.4C1155.9,1579.2 1159.8,1578.2 1162.5,1579.3C1165.2,1580.3 1168.2,1582.6 1169.6,1584.6C1171.1,1586.7 1171.2,1589.4 1171.1,1591.8C1170.9,1594.2 1170.3,1597.1 1168.8,1598.9C1167.2,1600.7 1164.1,1601.9 1161.6,1602.5C1159.1,1603.1 1155.7,1601.8 1153.6,1602.5C1151.5,1603.2 1149.9,1605.8 1149.1,1606.4"/>
<path d="M1222.9,1574.3C1222,1575 1220.1,1577.6 1217.9,1578.4C1215.6,1579.2 1211.8,1578.2 1209.3,1579.3C1206.8,1580.3 1204,1582.6 1202.7,1584.6C1201.3,1586.7 1201,1589.4 1201.1,1591.8C1201.2,1594.2 1201.7,1597.1 1203.2,1598.9C1204.8,1600.7 1207.9,1601.9 1210.4,1602.5C1212.9,1603.1 1216.2,1601.8 1218.2,1602.5C1220.2,1603.2 1221.8,1605.8 1222.5,1606.4"/>
</g>
<line x1="1141.1" y1="1445.7" x2="1159.5" y2="1445.7" stroke="#000" stroke-width="0.9"/>
<line x1="1141.1" y1="1482.9" x2="1162.9" y2="1482.9" stroke="#000" stroke-width="0.9"/>
<line x1="1146.1" y1="1442.7" x2="1146.1" y2="1486.1" stroke="#000" stroke-width="0.9"/>
<path d="M1146.1,1445.7L1148.6,1456.7L1143.6,1456.7Z" fill="#000" stroke="none"/>
<path d="M1146.1,1482.9L1143.6,1471.9L1148.6,1471.9Z" fill="#000" stroke="none"/>
<text transform="translate(1133,1464.1) rotate(-90)" font-size="18.7" text-anchor="middle" fill="#000" textLength="20" lengthAdjust="spacingAndGlyphs" dy="0.344em">10</text>
<text x="1184.3" y="1504.5" font-size="18.7" text-anchor="middle" textLength="20" lengthAdjust="spacingAndGlyphs" fill="#000">17</text>
<line x1="1143.8" y1="1511.1" x2="1228.6" y2="1511.1" stroke="#000" stroke-width="0.9"/>
<line x1="1146.1" y1="1505.7" x2="1146.1" y2="1564.1" stroke="#000" stroke-width="0.9"/>
<line x1="1225.5" y1="1505.7" x2="1225.5" y2="1564.1" stroke="#000" stroke-width="0.9"/>
<path d="M1146.1,1511.1L1158.6,1508.6L1158.6,1513.6Z" fill="#000" stroke="none"/>
<path d="M1225.5,1511.1L1213,1513.6L1213,1508.6Z" fill="#000" stroke="none"/>
<text x="1184.3" y="1530.2" font-size="18.7" text-anchor="middle" textLength="20" lengthAdjust="spacingAndGlyphs" fill="#000">12</text>
<line x1="1155" y1="1536.4" x2="1217" y2="1536.4" stroke="#000" stroke-width="0.9"/>
<line x1="1157.5" y1="1531.4" x2="1157.5" y2="1590.4" stroke="#000" stroke-width="0.9"/>
<line x1="1214.3" y1="1531.4" x2="1214.3" y2="1590.4" stroke="#000" stroke-width="0.9"/>
<path d="M1157.5,1536.4L1170,1533.9L1170,1538.9Z" fill="#000" stroke="none"/>
<path d="M1214.3,1536.4L1201.8,1538.9L1201.8,1533.9Z" fill="#000" stroke="none"/>
<line x1="1199.1" y1="1583.2" x2="1251.8" y2="1612.9" stroke="#000" stroke-width="0.9"/>
<line x1="1187.5" y1="1605.2" x2="1238.9" y2="1633.8" stroke="#000" stroke-width="0.9"/>
<line x1="1250.4" y1="1605.7" x2="1234.8" y2="1632.9" stroke="#000" stroke-width="0.9"/>
<path d="M1248.9,1608.2L1245.6,1619L1241.3,1616.5Z" fill="#000" stroke="none"/>
<path d="M1236.8,1629.5L1240.1,1618.7L1244.4,1621.2Z" fill="#000" stroke="none"/>
<text transform="translate(1255,1627.5) rotate(60)" font-size="18.7" text-anchor="middle" fill="#000" textLength="25" lengthAdjust="spacingAndGlyphs" dy="0.344em">5,3</text>
<g class="k" stroke-width="1.6" stroke-linejoin="round">
<rect x="1569.2" y="1378.4" width="8" height="17" fill="#777"/>
<path d="M1566.5,1395.4L1577.2,1395.4L1577.2,1418L1566.5,1412Z" stroke-width="1.9"/>
<path d="M1577.2,1445.7L1577.2,1427L1567.4,1421.2L1567.4,1445.7" stroke-width="1.9"/>
</g>
<g class="k" stroke-width="2.1" stroke-linejoin="round">
<path d="M1539.4,1445.7L1606.3,1445.7L1606.3,1467.7L1603.1,1467.7L1603.1,1482L1542.8,1482L1542.8,1467.7L1539.4,1467.7Z"/>
<path d="M1542.8,1479.3L1603.1,1479.3" stroke-width="1.6"/>
<path d="M1553.5,1482.3 A6.8,3.2 0 0 0 1567,1482.3" stroke-width="1.6" fill="#555"/>
<path d="M1579.4,1482.3 A6.8,3.2 0 0 0 1592.9,1482.3" stroke-width="1.6" fill="#555"/>
<circle cx="1565.6" cy="1590" r="40.2"/>
</g>
<g class="k" stroke-width="1.8" stroke-linejoin="round">
<ellipse cx="1580.8" cy="1564.1" rx="6.4" ry="7.5" transform="rotate(30 1580.8 1564.1)"/>
<ellipse cx="1571.9" cy="1580.7" rx="4.8" ry="6.6" transform="rotate(30 1571.9 1580.7)"/>
<ellipse cx="1559.9" cy="1600.4" rx="4.8" ry="6.6" transform="rotate(30 1559.9 1600.4)"/>
<ellipse cx="1551.3" cy="1616.8" rx="6.4" ry="7.5" transform="rotate(30 1551.3 1616.8)"/>
<circle cx="1537.4" cy="1590" r="6.8"/>
<circle cx="1594.2" cy="1590" r="6.8"/>
<path d="M1528.7,1574.3C1529.5,1575 1531.2,1577.6 1533.5,1578.4C1535.8,1579.2 1539.7,1578.2 1542.4,1579.3C1545.1,1580.3 1548.1,1582.6 1549.5,1584.6C1551,1586.7 1551.1,1589.4 1551,1591.8C1550.8,1594.2 1550.2,1597.1 1548.7,1598.9C1547.1,1600.7 1544,1601.9 1541.5,1602.5C1539,1603.1 1535.6,1601.8 1533.5,1602.5C1531.4,1603.2 1529.8,1605.8 1529,1606.4"/>
<path d="M1602.8,1574.3C1601.9,1575 1600,1577.6 1597.8,1578.4C1595.5,1579.2 1591.7,1578.2 1589.2,1579.3C1586.7,1580.3 1583.9,1582.6 1582.6,1584.6C1581.2,1586.7 1580.9,1589.4 1581,1591.8C1581.1,1594.2 1581.6,1597.1 1583.1,1598.9C1584.7,1600.7 1587.8,1601.9 1590.3,1602.5C1592.8,1603.1 1596.1,1601.8 1598.1,1602.5C1600.1,1603.2 1601.7,1605.8 1602.4,1606.4"/>
</g>
<line x1="1521" y1="1445.7" x2="1539.4" y2="1445.7" stroke="#000" stroke-width="0.9"/>
<line x1="1521" y1="1482.9" x2="1542.8" y2="1482.9" stroke="#000" stroke-width="0.9"/>
<line x1="1526" y1="1442.7" x2="1526" y2="1486.1" stroke="#000" stroke-width="0.9"/>
<path d="M1526,1445.7L1528.5,1456.7L1523.5,1456.7Z" fill="#000" stroke="none"/>
<path d="M1526,1482.9L1523.5,1471.9L1528.5,1471.9Z" fill="#000" stroke="none"/>
<text transform="translate(1512.9,1464.1) rotate(-90)" font-size="18.7" text-anchor="middle" fill="#000" textLength="20" lengthAdjust="spacingAndGlyphs" dy="0.344em">10</text>
<text x="1564.2" y="1504.5" font-size="18.7" text-anchor="middle" textLength="20" lengthAdjust="spacingAndGlyphs" fill="#000">17</text>
<line x1="1523.7" y1="1511.1" x2="1608.5" y2="1511.1" stroke="#000" stroke-width="0.9"/>
<line x1="1526" y1="1505.7" x2="1526" y2="1564.1" stroke="#000" stroke-width="0.9"/>
<line x1="1605.4" y1="1505.7" x2="1605.4" y2="1564.1" stroke="#000" stroke-width="0.9"/>
<path d="M1526,1511.1L1538.5,1508.6L1538.5,1513.6Z" fill="#000" stroke="none"/>
<path d="M1605.4,1511.1L1592.9,1513.6L1592.9,1508.6Z" fill="#000" stroke="none"/>
<text x="1564.2" y="1530.2" font-size="18.7" text-anchor="middle" textLength="20" lengthAdjust="spacingAndGlyphs" fill="#000">12</text>
<line x1="1534.9" y1="1536.4" x2="1596.9" y2="1536.4" stroke="#000" stroke-width="0.9"/>
<line x1="1537.4" y1="1531.4" x2="1537.4" y2="1590.4" stroke="#000" stroke-width="0.9"/>
<line x1="1594.2" y1="1531.4" x2="1594.2" y2="1590.4" stroke="#000" stroke-width="0.9"/>
<path d="M1537.4,1536.4L1549.9,1533.9L1549.9,1538.9Z" fill="#000" stroke="none"/>
<path d="M1594.2,1536.4L1581.7,1538.9L1581.7,1533.9Z" fill="#000" stroke="none"/>
<line x1="1579" y1="1583.2" x2="1631.7" y2="1612.9" stroke="#000" stroke-width="0.9"/>
<line x1="1567.4" y1="1605.2" x2="1618.8" y2="1633.8" stroke="#000" stroke-width="0.9"/>
<line x1="1630.3" y1="1605.7" x2="1614.7" y2="1632.9" stroke="#000" stroke-width="0.9"/>
<path d="M1628.8,1608.2L1625.5,1619L1621.2,1616.5Z" fill="#000" stroke="none"/>
<path d="M1616.7,1629.5L1620,1618.7L1624.3,1621.2Z" fill="#000" stroke="none"/>
<text transform="translate(1634.9,1627.5) rotate(60)" font-size="18.7" text-anchor="middle" fill="#000" textLength="25" lengthAdjust="spacingAndGlyphs" dy="0.344em">5,3</text>
<g class="k" stroke-width="1.9" stroke-linejoin="round">
<path d="M1971.9,1588.7L1976.3,1590.8L1977.4,1610.2L1972.9,1608.3Z" fill="#fff"/>
<path d="M1976.3,1590.8L1988.9,1588.7L1989.9,1608.1L1977.4,1610.2Z" fill="#fff"/>
<path d="M1971.9,1588.7L1980.5,1586.7L1988.9,1588.7L1976.3,1590.8Z" fill="#fff"/>
<path d="M1964,1574.6L1964,1586.7L1970,1588L1982.6,1587.7L1982.6,1575.2Z" fill="#fff"/>
<path d="M1970,1575.9L1970,1588"/>
<ellipse cx="1973.3" cy="1574.7" rx="9.4" ry="1.6" fill="#000" transform="rotate(4 1973.3 1574.7)"/>
<path d="M1953.8,1591.1L1958.3,1593.2L1959.3,1612.5L1954.9,1610.7Z" fill="#fff"/>
<path d="M1958.3,1593.2L1970.8,1591.1L1971.9,1610.4L1959.3,1612.5Z" fill="#fff"/>
<path d="M1953.8,1591.1L1962.5,1589L1970.8,1591.1L1958.3,1593.2Z" fill="#fff"/>
<path d="M1946,1577L1946,1589L1952,1590.3L1964.5,1590.1L1964.5,1577.5Z" fill="#fff"/>
<path d="M1952,1578.3L1952,1590.3"/>
<ellipse cx="1955.2" cy="1577.1" rx="9.4" ry="1.6" fill="#000" transform="rotate(4 1955.2 1577.1)"/>
<path d="M1920.1,1591.9L1940.2,1595.5L1941.3,1614.9L1920.9,1611Z" fill="#fff"/>
<path d="M1940.2,1595.5L1952.8,1593.5L1953.8,1612.8L1941.3,1614.9Z" fill="#fff"/>
<path d="M1920.1,1591.9L1932.4,1590.1L1952.8,1593.5L1940.2,1595.5Z" fill="#fff"/>
<path d="M1928,1579.3L1928,1591.4L1934,1592.7L1946.5,1592.4L1946.5,1579.9Z" fill="#fff"/>
<path d="M1934,1580.6L1934,1592.7"/>
<ellipse cx="1937.2" cy="1579.4" rx="9.4" ry="1.6" fill="#000" transform="rotate(4 1937.2 1579.4)"/>
</g>
<g class="k" stroke-width="1.9" stroke-linejoin="round">
<path d="M2354.4,1588.7L2358.8,1590.8L2359.9,1610.2L2355.4,1608.3Z" fill="#fff"/>
<path d="M2358.8,1590.8L2371.4,1588.7L2372.4,1608.1L2359.9,1610.2Z" fill="#fff"/>
<path d="M2354.4,1588.7L2363,1586.7L2371.4,1588.7L2358.8,1590.8Z" fill="#fff"/>
<path d="M2346.5,1574.6L2346.5,1586.7L2352.5,1588L2365.1,1587.7L2365.1,1575.2Z" fill="#fff"/>
<path d="M2352.5,1575.9L2352.5,1588"/>
<ellipse cx="2355.8" cy="1574.7" rx="9.4" ry="1.6" fill="#000" transform="rotate(4 2355.8 1574.7)"/>
<path d="M2336.3,1591.1L2340.8,1593.2L2341.8,1612.5L2337.4,1610.7Z" fill="#fff"/>
<path d="M2340.8,1593.2L2353.3,1591.1L2354.4,1610.4L2341.8,1612.5Z" fill="#fff"/>
<path d="M2336.3,1591.1L2345,1589L2353.3,1591.1L2340.8,1593.2Z" fill="#fff"/>
<path d="M2328.5,1577L2328.5,1589L2334.5,1590.3L2347,1590.1L2347,1577.5Z" fill="#fff"/>
<path d="M2334.5,1578.3L2334.5,1590.3"/>
<ellipse cx="2337.7" cy="1577.1" rx="9.4" ry="1.6" fill="#000" transform="rotate(4 2337.7 1577.1)"/>
<path d="M2302.6,1591.9L2322.7,1595.5L2323.8,1614.9L2303.4,1611Z" fill="#fff"/>
<path d="M2322.7,1595.5L2335.3,1593.5L2336.3,1612.8L2323.8,1614.9Z" fill="#fff"/>
<path d="M2302.6,1591.9L2314.9,1590.1L2335.3,1593.5L2322.7,1595.5Z" fill="#fff"/>
<path d="M2310.5,1579.3L2310.5,1591.4L2316.5,1592.7L2329,1592.4L2329,1579.9Z" fill="#fff"/>
<path d="M2316.5,1580.6L2316.5,1592.7"/>
<ellipse cx="2319.7" cy="1579.4" rx="9.4" ry="1.6" fill="#000" transform="rotate(4 2319.7 1579.4)"/>
</g>
<g class="k" stroke-width="1.9" stroke-linejoin="round">
<path d="M2737.4,1588.7L2741.8,1590.8L2742.9,1610.2L2738.4,1608.3Z" fill="#fff"/>
<path d="M2741.8,1590.8L2754.4,1588.7L2755.4,1608.1L2742.9,1610.2Z" fill="#fff"/>
<path d="M2737.4,1588.7L2746,1586.7L2754.4,1588.7L2741.8,1590.8Z" fill="#fff"/>
<path d="M2729.5,1574.6L2729.5,1586.7L2735.5,1588L2748.1,1587.7L2748.1,1575.2Z" fill="#fff"/>
<path d="M2735.5,1575.9L2735.5,1588"/>
<ellipse cx="2738.8" cy="1574.7" rx="9.4" ry="1.6" fill="#000" transform="rotate(4 2738.8 1574.7)"/>
<path d="M2719.3,1591.1L2723.8,1593.2L2724.8,1612.5L2720.4,1610.7Z" fill="#fff"/>
<path d="M2723.8,1593.2L2736.3,1591.1L2737.4,1610.4L2724.8,1612.5Z" fill="#fff"/>
<path d="M2719.3,1591.1L2728,1589L2736.3,1591.1L2723.8,1593.2Z" fill="#fff"/>
<path d="M2711.5,1577L2711.5,1589L2717.5,1590.3L2730,1590.1L2730,1577.5Z" fill="#fff"/>
<path d="M2717.5,1578.3L2717.5,1590.3"/>
<ellipse cx="2720.7" cy="1577.1" rx="9.4" ry="1.6" fill="#000" transform="rotate(4 2720.7 1577.1)"/>
<path d="M2685.6,1591.9L2705.7,1595.5L2706.8,1614.9L2686.4,1611Z" fill="#fff"/>
<path d="M2705.7,1595.5L2718.3,1593.5L2719.3,1612.8L2706.8,1614.9Z" fill="#fff"/>
<path d="M2685.6,1591.9L2697.9,1590.1L2718.3,1593.5L2705.7,1595.5Z" fill="#fff"/>
<path d="M2693.5,1579.3L2693.5,1591.4L2699.5,1592.7L2712,1592.4L2712,1579.9Z" fill="#fff"/>
<path d="M2699.5,1580.6L2699.5,1592.7"/>
<ellipse cx="2702.7" cy="1579.4" rx="9.4" ry="1.6" fill="#000" transform="rotate(4 2702.7 1579.4)"/>
</g>
<g class="k" stroke-width="1.9" stroke-linejoin="round">
<path d="M3121.9,1588.7L3126.3,1590.8L3127.4,1610.2L3122.9,1608.3Z" fill="#fff"/>
<path d="M3126.3,1590.8L3138.9,1588.7L3139.9,1608.1L3127.4,1610.2Z" fill="#fff"/>
<path d="M3121.9,1588.7L3130.5,1586.7L3138.9,1588.7L3126.3,1590.8Z" fill="#fff"/>
<path d="M3114,1574.6L3114,1586.7L3120,1588L3132.6,1587.7L3132.6,1575.2Z" fill="#fff"/>
<path d="M3120,1575.9L3120,1588"/>
<ellipse cx="3123.3" cy="1574.7" rx="9.4" ry="1.6" fill="#000" transform="rotate(4 3123.3 1574.7)"/>
<path d="M3103.8,1591.1L3108.3,1593.2L3109.3,1612.5L3104.9,1610.7Z" fill="#fff"/>
<path d="M3108.3,1593.2L3120.8,1591.1L3121.9,1610.4L3109.3,1612.5Z" fill="#fff"/>
<path d="M3103.8,1591.1L3112.5,1589L3120.8,1591.1L3108.3,1593.2Z" fill="#fff"/>
<path d="M3096,1577L3096,1589L3102,1590.3L3114.5,1590.1L3114.5,1577.5Z" fill="#fff"/>
<path d="M3102,1578.3L3102,1590.3"/>
<ellipse cx="3105.2" cy="1577.1" rx="9.4" ry="1.6" fill="#000" transform="rotate(4 3105.2 1577.1)"/>
<path d="M3070.1,1591.9L3090.2,1595.5L3091.3,1614.9L3070.9,1611Z" fill="#fff"/>
<path d="M3090.2,1595.5L3102.8,1593.5L3103.8,1612.8L3091.3,1614.9Z" fill="#fff"/>
<path d="M3070.1,1591.9L3082.4,1590.1L3102.8,1593.5L3090.2,1595.5Z" fill="#fff"/>
<path d="M3078,1579.3L3078,1591.4L3084,1592.7L3096.5,1592.4L3096.5,1579.9Z" fill="#fff"/>
<path d="M3084,1580.6L3084,1592.7"/>
<ellipse cx="3087.2" cy="1579.4" rx="9.4" ry="1.6" fill="#000" transform="rotate(4 3087.2 1579.4)"/>
</g>
<g class="k" stroke-width="2.0" stroke-linejoin="round">
<rect x="413" y="1757.7" width="14.4" height="9.4"/>
<line x1="416.1" y1="1767.1" x2="416.1" y2="1773.4"/>
<line x1="424.1" y1="1767.1" x2="424.1" y2="1773.4"/>
<rect x="438.5" y="1757.7" width="15" height="9.4"/>
<line x1="441.8" y1="1767.1" x2="441.8" y2="1773.4"/>
<line x1="449.8" y1="1767.1" x2="449.8" y2="1773.4"/>
<path d="M411.9,1773.4L454,1773.4L463.2,1782.1L403.9,1782.1Z" fill="#fff"/>
<path d="M404.3,1782.1L404.3,1825.9C404,1826.6 404.2,1827.6 402.5,1830.3C400.8,1833 397.4,1837.2 394.1,1841.9C390.9,1846.6 386.2,1852.8 383.1,1858.6C379.9,1864.3 377.1,1870.8 375.3,1876.3C373.5,1881.7 373,1888.8 372.5,1891.3L494.7,1891.3C494.2,1888.8 493.7,1881.7 491.9,1876.3C490.1,1870.8 487.3,1864.3 484.1,1858.6C481,1852.8 476.3,1846.6 473.1,1841.9C469.8,1837.2 466.4,1833 464.7,1830.3C463,1827.6 463.2,1826.6 462.9,1825.9L462.9,1782.1Z" fill="#fff"/>
<rect x="367.5" y="1891.3" width="131.9" height="6.6" rx="3.3" fill="#fff"/>
</g>
<line x1="346.5" y1="1757.7" x2="413" y2="1757.7" stroke="#000" stroke-width="0.9"/>
<line x1="346.5" y1="1898.4" x2="368.6" y2="1898.4" stroke="#000" stroke-width="0.9"/>
<line x1="352.6" y1="1754.7" x2="352.6" y2="1901.4" stroke="#000" stroke-width="0.9"/>
<path d="M352.6,1757.7L355.1,1770.2L350.1,1770.2Z" fill="#000" stroke="none"/>
<path d="M352.6,1898.4L350.1,1885.9L355.1,1885.9Z" fill="#000" stroke="none"/>
<text transform="translate(339,1825.9) rotate(-90)" font-size="18.7" text-anchor="middle" fill="#000" textLength="20" lengthAdjust="spacingAndGlyphs" dy="0.344em">54</text>
<g class="k" stroke-width="2.0" stroke-linejoin="round">
<rect x="794.8" y="1757.7" width="14.4" height="9.4"/>
<line x1="797.9" y1="1767.1" x2="797.9" y2="1773.4"/>
<line x1="805.9" y1="1767.1" x2="805.9" y2="1773.4"/>
<rect x="820.3" y="1757.7" width="15" height="9.4"/>
<line x1="823.6" y1="1767.1" x2="823.6" y2="1773.4"/>
<line x1="831.6" y1="1767.1" x2="831.6" y2="1773.4"/>
<path d="M793.7,1773.4L835.8,1773.4L845,1782.1L785.7,1782.1Z" fill="#fff"/>
<path d="M786.1,1782.1L786.1,1825.9C785.8,1826.6 786,1827.6 784.3,1830.3C782.6,1833 779.2,1837.2 775.9,1841.9C772.7,1846.6 768,1852.8 764.9,1858.6C761.7,1864.3 758.9,1870.8 757.1,1876.3C755.3,1881.7 754.8,1888.8 754.3,1891.3L876.5,1891.3C876,1888.8 875.5,1881.7 873.7,1876.3C871.9,1870.8 869.1,1864.3 865.9,1858.6C862.8,1852.8 858.1,1846.6 854.9,1841.9C851.6,1837.2 848.2,1833 846.5,1830.3C844.8,1827.6 845,1826.6 844.7,1825.9L844.7,1782.1Z" fill="#fff"/>
<rect x="749.3" y="1891.3" width="131.9" height="6.6" rx="3.3" fill="#fff"/>
</g>
<line x1="728.3" y1="1757.7" x2="794.8" y2="1757.7" stroke="#000" stroke-width="0.9"/>
<line x1="728.3" y1="1898.4" x2="750.4" y2="1898.4" stroke="#000" stroke-width="0.9"/>
<line x1="734.4" y1="1754.7" x2="734.4" y2="1901.4" stroke="#000" stroke-width="0.9"/>
<path d="M734.4,1757.7L736.9,1770.2L731.9,1770.2Z" fill="#000" stroke="none"/>
<path d="M734.4,1898.4L731.9,1885.9L736.9,1885.9Z" fill="#000" stroke="none"/>
<text transform="translate(720.8,1825.9) rotate(-90)" font-size="18.7" text-anchor="middle" fill="#000" textLength="20" lengthAdjust="spacingAndGlyphs" dy="0.344em">54</text>
<g class="k" stroke-width="1.9" stroke-linejoin="round">
<rect x="1185.1" y="1775.6" width="5.5" height="20.4" rx="2.7" fill="#fff"/>
<rect x="1200.3" y="1775.6" width="5.5" height="20.4" rx="2.7" fill="#fff"/>
<path d="M1168.4,1833.2C1166.9,1834.5 1162.9,1837.3 1159.5,1841C1156.1,1844.8 1151.5,1849.9 1148,1855.7C1144.5,1861.4 1140.8,1869.7 1138.6,1875.6C1136.3,1881.4 1135.1,1888.2 1134.4,1890.8L1256.4,1890.8C1255.7,1888.2 1254.5,1881.4 1252.2,1875.6C1250,1869.7 1246.3,1861.4 1242.8,1855.7C1239.3,1849.9 1234.7,1844.8 1231.3,1841C1227.9,1837.3 1223.9,1834.5 1222.4,1833.2Z" fill="#fff"/>
<path d="M1173.6,1795.5L1217.1,1795.5L1222.3,1833.7L1168.4,1833.7Z" fill="#fff"/>
<path d="M1174.7,1816.4L1177.8,1798.6L1213.4,1798.6L1216.5,1816.4" stroke-width="1.7"/>
<rect x="1173.6" y="1816.4" width="42.9" height="5.8" stroke-width="1.8" fill="#fff"/>
<line x1="1173.6" y1="1819.3" x2="1216.5" y2="1819.3" stroke-width="1.2"/>
<path d="M1174.7,1822.2L1173.1,1833.7" stroke-width="1.7"/>
<path d="M1216.5,1822.2L1218.1,1833.7" stroke-width="1.7"/>
<line x1="1134.4" y1="1890.4" x2="1256.8" y2="1890.4" stroke-width="2.4"/>
<rect x="1128.6" y="1892" width="134" height="6.5" rx="3.1" fill="#7a7a7a" stroke-width="2.2"/>
</g>
<line x1="1106.1" y1="1776.4" x2="1173.6" y2="1776.4" stroke="#000" stroke-width="0.9"/>
<line x1="1106.1" y1="1898.4" x2="1128.6" y2="1898.4" stroke="#000" stroke-width="0.9"/>
<line x1="1112.2" y1="1773.4" x2="1112.2" y2="1901.4" stroke="#000" stroke-width="0.9"/>
<path d="M1112.2,1776.4L1114.7,1788.9L1109.7,1788.9Z" fill="#000" stroke="none"/>
<path d="M1112.2,1898.4L1109.7,1885.9L1114.7,1885.9Z" fill="#000" stroke="none"/>
<text transform="translate(1098,1835.8) rotate(-90)" font-size="18.7" text-anchor="middle" fill="#000" textLength="20" lengthAdjust="spacingAndGlyphs" dy="0.344em">50</text>
<g class="k" stroke-width="1.9" stroke-linejoin="round">
<rect x="1565.2" y="1775.6" width="5.5" height="20.4" rx="2.7" fill="#fff"/>
<rect x="1580.4" y="1775.6" width="5.5" height="20.4" rx="2.7" fill="#fff"/>
<path d="M1548.5,1833.2C1547,1834.5 1543,1837.3 1539.6,1841C1536.2,1844.8 1531.6,1849.9 1528.1,1855.7C1524.6,1861.4 1520.9,1869.7 1518.7,1875.6C1516.4,1881.4 1515.2,1888.2 1514.5,1890.8L1636.5,1890.8C1635.8,1888.2 1634.6,1881.4 1632.3,1875.6C1630.1,1869.7 1626.4,1861.4 1622.9,1855.7C1619.4,1849.9 1614.8,1844.8 1611.4,1841C1608,1837.3 1604,1834.5 1602.5,1833.2Z" fill="#fff"/>
<path d="M1553.7,1795.5L1597.2,1795.5L1602.4,1833.7L1548.5,1833.7Z" fill="#fff"/>
<path d="M1554.8,1816.4L1557.9,1798.6L1593.5,1798.6L1596.6,1816.4" stroke-width="1.7"/>
<rect x="1553.7" y="1816.4" width="42.9" height="5.8" stroke-width="1.8" fill="#fff"/>
<line x1="1553.7" y1="1819.3" x2="1596.6" y2="1819.3" stroke-width="1.2"/>
<path d="M1554.8,1822.2L1553.2,1833.7" stroke-width="1.7"/>
<path d="M1596.6,1822.2L1598.2,1833.7" stroke-width="1.7"/>
<line x1="1514.5" y1="1890.4" x2="1636.9" y2="1890.4" stroke-width="2.4"/>
<rect x="1508.7" y="1892" width="134" height="6.5" rx="3.1" fill="#7a7a7a" stroke-width="2.2"/>
</g>
<line x1="1486.2" y1="1776.4" x2="1553.7" y2="1776.4" stroke="#000" stroke-width="0.9"/>
<line x1="1486.2" y1="1898.4" x2="1508.7" y2="1898.4" stroke="#000" stroke-width="0.9"/>
<line x1="1492.3" y1="1773.4" x2="1492.3" y2="1901.4" stroke="#000" stroke-width="0.9"/>
<path d="M1492.3,1776.4L1494.8,1788.9L1489.8,1788.9Z" fill="#000" stroke="none"/>
<path d="M1492.3,1898.4L1489.8,1885.9L1494.8,1885.9Z" fill="#000" stroke="none"/>
<text transform="translate(1478.1,1835.8) rotate(-90)" font-size="18.7" text-anchor="middle" fill="#000" textLength="20" lengthAdjust="spacingAndGlyphs" dy="0.344em">50</text>
<g class="k" stroke-width="2.0" stroke-linejoin="round">
<path d="M1897.6,1864.9L1892.1,1889.3L2019,1889.3L2013.6,1864.9Z" stroke-width="1.6" fill="#fff"/>
<path d="M1887.7,1894.4 Q1955.3,1903.4 2023.1,1894.4" stroke-width="1.6"/>
<rect x="1887.3" y="1889.3" width="136.1" height="5.3" rx="1.3" fill="#fff" stroke-width="2.3"/>
<line x1="1892.1" y1="1890" x2="2019" y2="1890" stroke-width="2.6"/>
</g>
<path d="M1900.2,1789.2L2010.9,1789.2L2013.6,1865.9L1897.3,1865.9Z" fill="#fff"/>
<path d="M1900,1792.2L1903.1,1792.2L1901.4,1849.5L1900.6,1865.7L1897.3,1865.7L1898,1849.5ZM2010.8,1792.2L2007.7,1792.2L2009.3,1849.5L2010.2,1865.7L2013.5,1865.7L2012.8,1849.5ZM1904.5,1792.2L1908.4,1792.2L1906.8,1849.5L1906.1,1864.9L1903.3,1864.9L1903,1849.5ZM2006.3,1792.2L2002.4,1792.2L2004,1849.5L2004.6,1864.9L2007.5,1864.9L2007.8,1849.5ZM1909.9,1792.2L1913.1,1792.2L1911.2,1849.5L1911.5,1863.7L1909.6,1863.7L1908.4,1849.5ZM2000.9,1792.2L1997.7,1792.2L1999.6,1849.5L1999.3,1863.7L2001.2,1863.7L2002.4,1849.5ZM1913.9,1792.2L1918.1,1792.2L1916.9,1849.5L1914.6,1863.7L1912.7,1863.7L1913.4,1849.5ZM1996.9,1792.2L1992.7,1792.2L1993.9,1849.5L1996.2,1863.7L1998.1,1863.7L1997.4,1849.5ZM1921.5,1792.2L1924.5,1792.2L1922.8,1849.5L1922,1863.9L1919.8,1863.9L1920.8,1849.5ZM1989.3,1792.2L1986.3,1792.2L1988,1849.5L1988.8,1863.9L1990.9,1863.9L1990,1849.5ZM1925.4,1792.2L1928.7,1792.2L1927.6,1849.5L1925.3,1863.9L1923.2,1863.9L1924.3,1849.5ZM1985.4,1792.2L1982.1,1792.2L1983.2,1849.5L1985.5,1863.9L1987.6,1863.9L1986.5,1849.5ZM1932.8,1807.7L1935.1,1807.7L1934.9,1849.5L1934.3,1863.9L1932.1,1863.9L1932.6,1849.5ZM1978,1807.7L1975.7,1807.7L1975.9,1849.5L1976.5,1863.9L1978.7,1863.9L1978.2,1849.5ZM1937,1807.7L1939.3,1807.7L1939.2,1849.5L1938.6,1863.9L1936.4,1863.9L1936.8,1849.5ZM1973.8,1807.7L1971.4,1807.7L1971.6,1849.5L1972.2,1863.9L1974.4,1863.9L1974,1849.5ZM1945.1,1807.7L1947.4,1807.7L1947.3,1849.5L1947,1863.9L1944.8,1863.9L1945.1,1849.5ZM1965.6,1807.7L1963.3,1807.7L1963.5,1849.5L1963.8,1863.9L1966,1863.9L1965.7,1849.5ZM1949.7,1807.7L1952.1,1807.7L1952,1849.5L1951.8,1863.9L1949.6,1863.9L1949.7,1849.5ZM1961.1,1807.7L1958.7,1807.7L1958.8,1849.5L1959,1863.9L1961.2,1863.9L1961.1,1849.5Z" fill="#000"/>
<path d="M1912.9,1792.2L1914,1792.2L1913.4,1849.5L1912.4,1862L1911.2,1849.5Z" fill="#666"/>
<path d="M1997.8,1792.2L1996.8,1792.2L1997.4,1849.5L1998.4,1862L1999.6,1849.5Z" fill="#666"/>
<g stroke="#000" fill="none" stroke-linecap="round">
<path d="M1899,1863.7Q1901.6,1867.6 1904.3,1863.7" stroke-width="2.1"/>
<path d="M2011.8,1863.7Q2009.2,1867.6 2006.5,1863.7" stroke-width="2.1"/>
<path d="M1910.6,1863.7Q1912.1,1867.6 1913.7,1863.7" stroke-width="2.1"/>
<path d="M2000.2,1863.7Q1998.7,1867.6 1997.1,1863.7" stroke-width="2.1"/>
<path d="M1921,1863.7Q1922.6,1867.6 1924.3,1863.7" stroke-width="2.1"/>
<path d="M1989.8,1863.7Q1988.2,1867.6 1986.5,1863.7" stroke-width="2.1"/>
<path d="M1933.3,1863.7Q1935.4,1867.6 1937.5,1863.7" stroke-width="2.1"/>
<path d="M1977.5,1863.7Q1975.4,1867.6 1973.3,1863.7" stroke-width="2.1"/>
<path d="M1946,1863.7Q1948.4,1867.6 1950.7,1863.7" stroke-width="2.1"/>
<path d="M1964.8,1863.7Q1962.4,1867.6 1960.1,1863.7" stroke-width="2.1"/>
</g>
<rect x="1916.5" y="1851.6" width="77.8" height="1.9" fill="#000"/>
<rect x="1900.4" y="1788.7" width="110" height="3.6" fill="#000" rx="0.8"/>
<path d="M1933.8,1791.6L1933.8,1806.4L1977,1806.4L1977,1791.6" stroke="#000" stroke-width="3.3" fill="#fff" stroke-linejoin="round"/>
<path d="M1947.5,1806L1947.5,1799.7Q1947.5,1797.5 1949.8,1797.5L1961,1797.5Q1963.3,1797.5 1963.3,1799.7L1963.3,1806" stroke="#000" stroke-width="2.5" fill="#fff"/>
<line x1="1850.9" y1="1789.2" x2="1900.2" y2="1789.2" stroke="#000" stroke-width="0.9"/>
<line x1="1850.9" y1="1898.2" x2="1954.3" y2="1898.2" stroke="#000" stroke-width="0.9"/>
<line x1="1857.1" y1="1786.2" x2="1857.1" y2="1901.2" stroke="#000" stroke-width="0.9"/>
<path d="M1857.1,1789.2L1859.6,1801.7L1854.6,1801.7Z" fill="#000" stroke="none"/>
<path d="M1857.1,1898.2L1854.6,1885.7L1859.6,1885.7Z" fill="#000" stroke="none"/>
<text transform="translate(1843.2,1843.3) rotate(-90)" font-size="18.7" text-anchor="middle" fill="#000" textLength="20" lengthAdjust="spacingAndGlyphs" dy="0.344em">42</text>
<g class="k" stroke-width="2.0" stroke-linejoin="round">
<path d="M2280,1868.5L2274.5,1892.9L2401.4,1892.9L2396,1868.5Z" stroke-width="1.6" fill="#fff"/>
<rect x="2269.7" y="1892.9" width="136.1" height="5.3" rx="1.3" fill="#fff" stroke-width="2.3"/>
<line x1="2274.5" y1="1893.6" x2="2401.4" y2="1893.6" stroke-width="2.6"/>
</g>
<path d="M2282.6,1792.8L2393.3,1792.8L2396,1869.5L2279.7,1869.5Z" fill="#fff"/>
<path d="M2282.4,1795.8L2285.5,1795.8L2283.8,1853.1L2283,1869.3L2279.7,1869.3L2280.4,1853.1ZM2393.2,1795.8L2390.1,1795.8L2391.7,1853.1L2392.6,1869.3L2395.9,1869.3L2395.2,1853.1ZM2286.9,1795.8L2290.8,1795.8L2289.2,1853.1L2288.5,1868.5L2285.7,1868.5L2285.4,1853.1ZM2388.7,1795.8L2384.8,1795.8L2386.4,1853.1L2387,1868.5L2389.9,1868.5L2390.2,1853.1ZM2292.3,1795.8L2295.5,1795.8L2293.6,1853.1L2293.9,1867.3L2292,1867.3L2290.8,1853.1ZM2383.3,1795.8L2380.1,1795.8L2382,1853.1L2381.7,1867.3L2383.6,1867.3L2384.8,1853.1ZM2296.3,1795.8L2300.5,1795.8L2299.3,1853.1L2297,1867.3L2295.1,1867.3L2295.8,1853.1ZM2379.3,1795.8L2375.1,1795.8L2376.3,1853.1L2378.6,1867.3L2380.5,1867.3L2379.8,1853.1ZM2303.9,1795.8L2306.9,1795.8L2305.2,1853.1L2304.4,1867.5L2302.2,1867.5L2303.2,1853.1ZM2371.7,1795.8L2368.7,1795.8L2370.4,1853.1L2371.2,1867.5L2373.3,1867.5L2372.4,1853.1ZM2307.8,1795.8L2311.1,1795.8L2310,1853.1L2307.7,1867.5L2305.6,1867.5L2306.7,1853.1ZM2367.8,1795.8L2364.5,1795.8L2365.6,1853.1L2367.9,1867.5L2370,1867.5L2368.9,1853.1ZM2315.2,1811.3L2317.5,1811.3L2317.3,1853.1L2316.7,1867.5L2314.5,1867.5L2315,1853.1ZM2360.4,1811.3L2358.1,1811.3L2358.3,1853.1L2358.9,1867.5L2361.1,1867.5L2360.6,1853.1ZM2319.4,1811.3L2321.7,1811.3L2321.6,1853.1L2321,1867.5L2318.8,1867.5L2319.2,1853.1ZM2356.2,1811.3L2353.8,1811.3L2354,1853.1L2354.6,1867.5L2356.8,1867.5L2356.4,1853.1ZM2327.5,1811.3L2329.8,1811.3L2329.7,1853.1L2329.4,1867.5L2327.2,1867.5L2327.5,1853.1ZM2348,1811.3L2345.7,1811.3L2345.9,1853.1L2346.2,1867.5L2348.4,1867.5L2348.1,1853.1ZM2332.1,1811.3L2334.5,1811.3L2334.4,1853.1L2334.2,1867.5L2332,1867.5L2332.1,1853.1ZM2343.5,1811.3L2341.1,1811.3L2341.2,1853.1L2341.4,1867.5L2343.6,1867.5L2343.5,1853.1Z" fill="#000"/>
<path d="M2295.3,1795.8L2296.4,1795.8L2295.8,1853.1L2294.8,1865.6L2293.6,1853.1Z" fill="#666"/>
<path d="M2380.2,1795.8L2379.2,1795.8L2379.8,1853.1L2380.8,1865.6L2382,1853.1Z" fill="#666"/>
<g stroke="#000" fill="none" stroke-linecap="round">
<path d="M2281.4,1867.3Q2284,1871.2 2286.7,1867.3" stroke-width="2.1"/>
<path d="M2394.2,1867.3Q2391.6,1871.2 2388.9,1867.3" stroke-width="2.1"/>
<path d="M2293,1867.3Q2294.5,1871.2 2296.1,1867.3" stroke-width="2.1"/>
<path d="M2382.6,1867.3Q2381.1,1871.2 2379.5,1867.3" stroke-width="2.1"/>
<path d="M2303.4,1867.3Q2305,1871.2 2306.7,1867.3" stroke-width="2.1"/>
<path d="M2372.2,1867.3Q2370.6,1871.2 2368.9,1867.3" stroke-width="2.1"/>
<path d="M2315.7,1867.3Q2317.8,1871.2 2319.9,1867.3" stroke-width="2.1"/>
<path d="M2359.9,1867.3Q2357.8,1871.2 2355.7,1867.3" stroke-width="2.1"/>
<path d="M2328.4,1867.3Q2330.8,1871.2 2333.1,1867.3" stroke-width="2.1"/>
<path d="M2347.2,1867.3Q2344.8,1871.2 2342.5,1867.3" stroke-width="2.1"/>
</g>
<rect x="2298.9" y="1855.2" width="77.8" height="1.9" fill="#000"/>
<rect x="2282.8" y="1792.3" width="110" height="3.6" fill="#000" rx="0.8"/>
<path d="M2316.2,1795.2L2316.2,1810L2359.4,1810L2359.4,1795.2" stroke="#000" stroke-width="3.3" fill="#fff" stroke-linejoin="round"/>
<path d="M2329.9,1809.6L2329.9,1803.3Q2329.9,1801.1 2332.2,1801.1L2343.4,1801.1Q2345.7,1801.1 2345.7,1803.3L2345.7,1809.6" stroke="#000" stroke-width="2.5" fill="#fff"/>
<line x1="2232.6" y1="1793.5" x2="2282.4" y2="1793.5" stroke="#000" stroke-width="0.9"/>
<line x1="2232.6" y1="1898.2" x2="2270.4" y2="1898.2" stroke="#000" stroke-width="0.9"/>
<line x1="2238.8" y1="1790.5" x2="2238.8" y2="1901.2" stroke="#000" stroke-width="0.9"/>
<path d="M2238.8,1793.5L2241.3,1806L2236.3,1806Z" fill="#000" stroke="none"/>
<path d="M2238.8,1898.2L2236.3,1885.7L2241.3,1885.7Z" fill="#000" stroke="none"/>
<text transform="translate(2224.9,1843.8) rotate(-90)" font-size="18.7" text-anchor="middle" fill="#000" textLength="20" lengthAdjust="spacingAndGlyphs" dy="0.344em">39</text>
<g class="k" stroke-width="1.8" stroke-linejoin="round">
<path d="M2672.6,1853.1L2661.6,1891.5L2785.7,1891.5L2778.5,1863.4" fill="#fff"/>
<rect x="2656.5" y="1891.7" width="133.8" height="5.7" rx="1.3" fill="#fff" stroke-width="2.3"/>
<line x1="2660.6" y1="1892.1" x2="2786.2" y2="1892.1" stroke-width="2.6"/>
<path d="M2673.3,1835.6L2777.7,1835.6L2778.5,1863.2L2769.1,1863.2L2766.5,1853.8L2676.4,1853.8L2673.6,1852.2Z" fill="#fff"/>
<line x1="2674.1" y1="1835.6" x2="2777.7" y2="1835.6" stroke-width="2.8"/>
<line x1="2676.4" y1="1836.9" x2="2676.4" y2="1853.8" stroke-width="1.5"/>
<line x1="2765.3" y1="1835.9" x2="2765.3" y2="1853.6" stroke-width="3.6"/>
<line x1="2770.8" y1="1836.9" x2="2770.8" y2="1863.2" stroke-width="1.6"/>
</g>
<line x1="2619.4" y1="1834.2" x2="2674.1" y2="1834.2" stroke="#000" stroke-width="0.9"/>
<line x1="2619.4" y1="1897.9" x2="2656.4" y2="1897.9" stroke="#000" stroke-width="0.9"/>
<line x1="2625.9" y1="1831.2" x2="2625.9" y2="1900.9" stroke="#000" stroke-width="0.9"/>
<path d="M2625.9,1834.2L2628.4,1846.7L2623.4,1846.7Z" fill="#000" stroke="none"/>
<path d="M2625.9,1897.9L2623.4,1885.4L2628.4,1885.4Z" fill="#000" stroke="none"/>
<text transform="translate(2611.8,1862.2) rotate(-90)" font-size="18.7" text-anchor="middle" fill="#000" textLength="20" lengthAdjust="spacingAndGlyphs" dy="0.344em">23</text>
<g class="k" stroke-width="1.8" stroke-linejoin="round">
<path d="M3057.3,1853.1L3046.3,1891.5L3170.4,1891.5L3163.2,1863.4" fill="#fff"/>
<rect x="3041.2" y="1891.7" width="133.8" height="5.7" rx="1.3" fill="#fff" stroke-width="2.3"/>
<line x1="3045.3" y1="1892.1" x2="3170.9" y2="1892.1" stroke-width="2.6"/>
<path d="M3058,1835.6L3162.4,1835.6L3163.2,1863.2L3153.8,1863.2L3151.2,1853.8L3061.1,1853.8L3058.3,1852.2Z" fill="#fff"/>
<line x1="3058.8" y1="1835.6" x2="3162.4" y2="1835.6" stroke-width="2.8"/>
<line x1="3061.1" y1="1836.9" x2="3061.1" y2="1853.8" stroke-width="1.5"/>
<line x1="3150" y1="1835.9" x2="3150" y2="1853.6" stroke-width="3.6"/>
<line x1="3155.5" y1="1836.9" x2="3155.5" y2="1863.2" stroke-width="1.6"/>
</g>
<line x1="3004.1" y1="1834.2" x2="3058.8" y2="1834.2" stroke="#000" stroke-width="0.9"/>
<line x1="3004.1" y1="1897.9" x2="3041.1" y2="1897.9" stroke="#000" stroke-width="0.9"/>
<line x1="3010.6" y1="1831.2" x2="3010.6" y2="1900.9" stroke="#000" stroke-width="0.9"/>
<path d="M3010.6,1834.2L3013.1,1846.7L3008.1,1846.7Z" fill="#000" stroke="none"/>
<path d="M3010.6,1897.9L3008.1,1885.4L3013.1,1885.4Z" fill="#000" stroke="none"/>
<text transform="translate(2996.5,1862.2) rotate(-90)" font-size="18.7" text-anchor="middle" fill="#000" textLength="20" lengthAdjust="spacingAndGlyphs" dy="0.344em">23</text>
<g class="k" stroke-width="2.0" stroke-linejoin="round">
<line x1="348.1" y1="2123.5" x2="317.6" y2="2139.2" stroke-width="3.6"/>
<line x1="317.4" y1="2139.2" x2="266.8" y2="2163" stroke-width="7.4" stroke-linecap="round"/>
<line x1="316.1" y1="2139.2" x2="267.6" y2="2162" stroke-width="3.1" stroke="#fff"/>
<line x1="316.1" y1="2139.5" x2="267.6" y2="2162.3" stroke-width="0.9"/>
<rect x="353" y="2122" width="2.6" height="43.5" fill="#bbb" stroke="none"/>
<line x1="352" y1="2121" x2="352" y2="2165.7"/>
<line x1="356.2" y1="2121" x2="356.2" y2="2165.7"/>
<line x1="363.9" y1="2115.5" x2="363.9" y2="2165.7"/>
<circle cx="355" cy="2115.5" r="7.6" stroke-width="4.4" fill="#fff"/>
<line x1="519.1" y1="2123.5" x2="549.6" y2="2139.2" stroke-width="3.6"/>
<line x1="549.8" y1="2139.2" x2="600.4" y2="2163" stroke-width="7.4" stroke-linecap="round"/>
<line x1="551.1" y1="2139.2" x2="599.6" y2="2162" stroke-width="3.1" stroke="#fff"/>
<line x1="551.1" y1="2139.5" x2="599.6" y2="2162.3" stroke-width="0.9"/>
<rect x="511.6" y="2122" width="2.6" height="43.5" fill="#bbb" stroke="none"/>
<line x1="515.2" y1="2121" x2="515.2" y2="2165.7"/>
<line x1="511" y1="2121" x2="511" y2="2165.7"/>
<line x1="503.3" y1="2115.5" x2="503.3" y2="2165.7"/>
<circle cx="512.2" cy="2115.5" r="7.6" stroke-width="4.4" fill="#fff"/>
</g>
<g class="k" stroke-width="2.0" stroke-linejoin="round">
<path d="M411.9,2040.9L454,2040.9L463.2,2049.6L403.9,2049.6Z" fill="#fff"/>
<path d="M404.3,2049.6L404.3,2093.4C404,2094.1 404.2,2095.1 402.5,2097.8C400.8,2100.5 397.4,2104.7 394.1,2109.4C390.9,2114.1 386.2,2120.3 383.1,2126.1C379.9,2131.8 377.1,2138.3 375.3,2143.8C373.5,2149.2 373,2156.3 372.5,2158.8L494.7,2158.8C494.2,2156.3 493.7,2149.2 491.9,2143.8C490.1,2138.3 487.3,2131.8 484.1,2126.1C481,2120.3 476.3,2114.1 473.1,2109.4C469.8,2104.7 466.4,2100.5 464.7,2097.8C463,2095.1 463.2,2094.1 462.9,2093.4L462.9,2049.6Z" fill="#fff"/>
<rect x="367.5" y="2158.8" width="131.9" height="6.6" rx="3.3" fill="#fff"/>
</g>
<g class="k" stroke-width="2.0" stroke-linejoin="round">
<rect x="400.3" y="2020" width="66.2" height="38.2" fill="#fff"/>
<line x1="422.4" y1="1920.3" x2="422.4" y2="1968.5"/>
<line x1="422.4" y1="1979.5" x2="422.4" y2="2020"/>
<line x1="444.4" y1="1920.3" x2="444.4" y2="1965.8"/>
<line x1="444.4" y1="1977" x2="444.4" y2="2020"/>
<path d="M415.1,1968C416,1968.5 418.2,1970.8 420.6,1971C423,1971.2 426.6,1970.2 429.6,1969.3C432.6,1968.4 435.9,1966.2 438.6,1965.5C441.3,1964.8 443.7,1964.5 445.6,1964.8C447.5,1965.1 449.4,1967 450.1,1967.5" stroke-width="1.6"/>
<path d="M415.1,1982.2C416,1982.7 418.2,1985 420.6,1985.2C423,1985.4 426.6,1984.4 429.6,1983.5C432.6,1982.6 435.9,1980.5 438.6,1979.7C441.3,1979 443.7,1978.7 445.6,1979C447.5,1979.3 449.4,1981.2 450.1,1981.7" stroke-width="1.6"/>
</g>
<rect x="324.3" y="2166.1" width="218.6" height="7.5" fill="#fff" stroke="#000" stroke-width="2"/>
<line x1="422.4" y1="1920.3" x2="499.6" y2="1920.3" stroke="#000" stroke-width="0.9"/>
<line x1="466.6" y1="2020" x2="499.6" y2="2020" stroke="#000" stroke-width="0.9"/>
<line x1="466.6" y1="2058.2" x2="499.6" y2="2058.2" stroke="#000" stroke-width="0.9"/>
<line x1="493.4" y1="1917" x2="493.4" y2="2061.5" stroke="#000" stroke-width="0.9"/>
<path d="M493.4,1920.3L495.9,1932.8L490.9,1932.8Z" fill="#000" stroke="none"/>
<path d="M493.4,2020L490.9,2007.5L495.9,2007.5Z" fill="#000" stroke="none"/>
<path d="M493.4,2020L495.9,2031L490.9,2031Z" fill="#000" stroke="none"/>
<path d="M493.4,2058.2L490.9,2047.2L495.9,2047.2Z" fill="#000" stroke="none"/>
<text transform="translate(504.8,1970.8) rotate(90)" font-size="18.7" text-anchor="middle" fill="#000" textLength="30" lengthAdjust="spacingAndGlyphs" dy="0.344em">150</text>
<text transform="translate(504.8,2038.5) rotate(90)" font-size="18.7" text-anchor="middle" fill="#000" textLength="20" lengthAdjust="spacingAndGlyphs" dy="0.344em">16</text>
<line x1="250.6" y1="2019.4" x2="319.1" y2="2019.4" stroke="#000" stroke-width="0.9"/>
<line x1="250.6" y1="2166" x2="315.6" y2="2166" stroke="#000" stroke-width="0.9"/>
<line x1="257.1" y1="2016.4" x2="257.1" y2="2169" stroke="#000" stroke-width="0.9"/>
<path d="M257.1,2019.4L259.6,2031.9L254.6,2031.9Z" fill="#000" stroke="none"/>
<path d="M257.1,2166L254.6,2153.5L259.6,2153.5Z" fill="#000" stroke="none"/>
<text transform="translate(243.3,2089.7) rotate(-90)" font-size="18.7" text-anchor="middle" fill="#000" textLength="20" lengthAdjust="spacingAndGlyphs" dy="0.344em">64</text>
<g class="k" stroke-width="2.0" stroke-linejoin="round">
<line x1="729.9" y1="2123.5" x2="699.4" y2="2139.2" stroke-width="3.6"/>
<line x1="699.2" y1="2139.2" x2="648.6" y2="2163" stroke-width="7.4" stroke-linecap="round"/>
<line x1="697.9" y1="2139.2" x2="649.4" y2="2162" stroke-width="3.1" stroke="#fff"/>
<line x1="697.9" y1="2139.5" x2="649.4" y2="2162.3" stroke-width="0.9"/>
<rect x="734.8" y="2122" width="2.6" height="43.5" fill="#bbb" stroke="none"/>
<line x1="733.8" y1="2121" x2="733.8" y2="2165.7"/>
<line x1="738" y1="2121" x2="738" y2="2165.7"/>
<line x1="745.7" y1="2115.5" x2="745.7" y2="2165.7"/>
<circle cx="736.8" cy="2115.5" r="7.6" stroke-width="4.4" fill="#fff"/>
<line x1="900.9" y1="2123.5" x2="931.4" y2="2139.2" stroke-width="3.6"/>
<line x1="931.6" y1="2139.2" x2="982.2" y2="2163" stroke-width="7.4" stroke-linecap="round"/>
<line x1="932.9" y1="2139.2" x2="981.4" y2="2162" stroke-width="3.1" stroke="#fff"/>
<line x1="932.9" y1="2139.5" x2="981.4" y2="2162.3" stroke-width="0.9"/>
<rect x="893.4" y="2122" width="2.6" height="43.5" fill="#bbb" stroke="none"/>
<line x1="897" y1="2121" x2="897" y2="2165.7"/>
<line x1="892.8" y1="2121" x2="892.8" y2="2165.7"/>
<line x1="885.1" y1="2115.5" x2="885.1" y2="2165.7"/>
<circle cx="894" cy="2115.5" r="7.6" stroke-width="4.4" fill="#fff"/>
</g>
<g class="k" stroke-width="2.0" stroke-linejoin="round">
<path d="M793.7,2040.9L835.8,2040.9L845,2049.6L785.7,2049.6Z" fill="#fff"/>
<path d="M786.1,2049.6L786.1,2093.4C785.8,2094.1 786,2095.1 784.3,2097.8C782.6,2100.5 779.2,2104.7 775.9,2109.4C772.7,2114.1 768,2120.3 764.9,2126.1C761.7,2131.8 758.9,2138.3 757.1,2143.8C755.3,2149.2 754.8,2156.3 754.3,2158.8L876.5,2158.8C876,2156.3 875.5,2149.2 873.7,2143.8C871.9,2138.3 869.1,2131.8 865.9,2126.1C862.8,2120.3 858.1,2114.1 854.9,2109.4C851.6,2104.7 848.2,2100.5 846.5,2097.8C844.8,2095.1 845,2094.1 844.7,2093.4L844.7,2049.6Z" fill="#fff"/>
<rect x="749.3" y="2158.8" width="131.9" height="6.6" rx="3.3" fill="#fff"/>
</g>
<g class="k" stroke-width="2.0" stroke-linejoin="round">
<rect x="782.1" y="2020" width="66.2" height="38.2" fill="#fff"/>
<line x1="804.2" y1="1920.3" x2="804.2" y2="1968.5"/>
<line x1="804.2" y1="1979.5" x2="804.2" y2="2020"/>
<line x1="826.2" y1="1920.3" x2="826.2" y2="1965.8"/>
<line x1="826.2" y1="1977" x2="826.2" y2="2020"/>
<path d="M796.9,1968C797.8,1968.5 800,1970.8 802.4,1971C804.8,1971.2 808.4,1970.2 811.4,1969.3C814.4,1968.4 817.7,1966.2 820.4,1965.5C823.1,1964.8 825.5,1964.5 827.4,1964.8C829.3,1965.1 831.1,1967 831.9,1967.5" stroke-width="1.6"/>
<path d="M796.9,1982.2C797.8,1982.7 800,1985 802.4,1985.2C804.8,1985.4 808.4,1984.4 811.4,1983.5C814.4,1982.6 817.7,1980.5 820.4,1979.7C823.1,1979 825.5,1978.7 827.4,1979C829.3,1979.3 831.1,1981.2 831.9,1981.7" stroke-width="1.6"/>
</g>
<rect x="706.1" y="2166.1" width="218.6" height="7.5" fill="#fff" stroke="#000" stroke-width="2"/>
<line x1="804.2" y1="1920.3" x2="881.4" y2="1920.3" stroke="#000" stroke-width="0.9"/>
<line x1="848.4" y1="2020" x2="881.4" y2="2020" stroke="#000" stroke-width="0.9"/>
<line x1="848.4" y1="2058.2" x2="881.4" y2="2058.2" stroke="#000" stroke-width="0.9"/>
<line x1="875.2" y1="1917" x2="875.2" y2="2061.5" stroke="#000" stroke-width="0.9"/>
<path d="M875.2,1920.3L877.7,1932.8L872.7,1932.8Z" fill="#000" stroke="none"/>
<path d="M875.2,2020L872.7,2007.5L877.7,2007.5Z" fill="#000" stroke="none"/>
<path d="M875.2,2020L877.7,2031L872.7,2031Z" fill="#000" stroke="none"/>
<path d="M875.2,2058.2L872.7,2047.2L877.7,2047.2Z" fill="#000" stroke="none"/>
<text transform="translate(886.6,1970.8) rotate(90)" font-size="18.7" text-anchor="middle" fill="#000" textLength="30" lengthAdjust="spacingAndGlyphs" dy="0.344em">150</text>
<text transform="translate(886.6,2038.5) rotate(90)" font-size="18.7" text-anchor="middle" fill="#000" textLength="20" lengthAdjust="spacingAndGlyphs" dy="0.344em">16</text>
<line x1="632.4" y1="2019.4" x2="700.9" y2="2019.4" stroke="#000" stroke-width="0.9"/>
<line x1="632.4" y1="2166" x2="697.4" y2="2166" stroke="#000" stroke-width="0.9"/>
<line x1="638.9" y1="2016.4" x2="638.9" y2="2169" stroke="#000" stroke-width="0.9"/>
<path d="M638.9,2019.4L641.4,2031.9L636.4,2031.9Z" fill="#000" stroke="none"/>
<path d="M638.9,2166L636.4,2153.5L641.4,2153.5Z" fill="#000" stroke="none"/>
<text transform="translate(625.1,2089.7) rotate(-90)" font-size="18.7" text-anchor="middle" fill="#000" textLength="20" lengthAdjust="spacingAndGlyphs" dy="0.344em">64</text>
<g class="k" stroke-width="2.4">
<line x1="435.6" y1="2116.1" x2="386.6" y2="2318.5"/>
<line x1="435.6" y1="2116.1" x2="488.6" y2="2319.7"/>
<path d="M407.1,2230 A35.3,35.3 0 0 0 464.6,2225" stroke-width="1.9"/>
<path d="M425.6,2237.5L407.1,2230L409.3,2249" stroke-width="3.4"/>
<path d="M447.1,2234.4L464.6,2225L466.4,2243" stroke-width="3.4"/>
</g>
<text x="438.3" y="2229.4" font-size="18.7" text-anchor="middle" textLength="27.2" lengthAdjust="spacingAndGlyphs" fill="#000">50°</text>
<g class="k" stroke-width="2.4">
<line x1="815.4" y1="2129.8" x2="633.2" y2="2260.9"/>
<line x1="815.4" y1="2129.8" x2="1009" y2="2262"/>
<path d="M739,2231.6 A100.8,100.8 0 0 0 899.5,2231.6" stroke-width="2.2"/>
<path d="M758.5,2240.1L739,2231.6L740.2,2252.6" stroke-width="3.6"/>
<path d="M880,2240.1L899.5,2231.6L897.5,2252.6" stroke-width="3.6"/>
</g>
<text x="821.7" y="2260" font-size="18.7" text-anchor="middle" textLength="37.2" lengthAdjust="spacingAndGlyphs" fill="#000">120°</text>
<g class="k" stroke-width="2.0" stroke-linejoin="round">
<line x1="1109.4" y1="2123.5" x2="1078.9" y2="2139.2" stroke-width="3.6"/>
<line x1="1078.7" y1="2139.2" x2="1028.1" y2="2163" stroke-width="7.4" stroke-linecap="round"/>
<line x1="1077.4" y1="2139.2" x2="1028.9" y2="2162" stroke-width="3.1" stroke="#fff"/>
<line x1="1077.4" y1="2139.5" x2="1028.9" y2="2162.3" stroke-width="0.9"/>
<rect x="1114.3" y="2122" width="2.6" height="43.5" fill="#bbb" stroke="none"/>
<line x1="1113.3" y1="2121" x2="1113.3" y2="2165.7"/>
<line x1="1117.5" y1="2121" x2="1117.5" y2="2165.7"/>
<line x1="1125.2" y1="2115.5" x2="1125.2" y2="2165.7"/>
<circle cx="1116.3" cy="2115.5" r="7.6" stroke-width="4.4" fill="#fff"/>
<line x1="1280.4" y1="2123.5" x2="1310.9" y2="2139.2" stroke-width="3.6"/>
<line x1="1311.1" y1="2139.2" x2="1361.7" y2="2163" stroke-width="7.4" stroke-linecap="round"/>
<line x1="1312.4" y1="2139.2" x2="1360.9" y2="2162" stroke-width="3.1" stroke="#fff"/>
<line x1="1312.4" y1="2139.5" x2="1360.9" y2="2162.3" stroke-width="0.9"/>
<rect x="1272.9" y="2122" width="2.6" height="43.5" fill="#bbb" stroke="none"/>
<line x1="1276.5" y1="2121" x2="1276.5" y2="2165.7"/>
<line x1="1272.3" y1="2121" x2="1272.3" y2="2165.7"/>
<line x1="1264.6" y1="2115.5" x2="1264.6" y2="2165.7"/>
<circle cx="1273.5" cy="2115.5" r="7.6" stroke-width="4.4" fill="#fff"/>
</g>
<g class="k" stroke-width="1.9" stroke-linejoin="round">
<path d="M1167.9,2100C1166.4,2101.3 1162.4,2104.1 1159,2107.8C1155.6,2111.6 1151,2116.7 1147.5,2122.5C1144,2128.2 1140.3,2136.5 1138.1,2142.4C1135.8,2148.2 1134.6,2155 1133.9,2157.6L1255.9,2157.6C1255.2,2155 1254,2148.2 1251.7,2142.4C1249.5,2136.5 1245.8,2128.2 1242.3,2122.5C1238.8,2116.7 1234.2,2111.6 1230.8,2107.8C1227.4,2104.1 1223.4,2101.3 1221.9,2100Z" fill="#fff"/>
<path d="M1173.1,2062.3L1216.6,2062.3L1221.8,2100.5L1167.9,2100.5Z" fill="#fff"/>
<path d="M1174.2,2083.2L1177.3,2065.4L1212.9,2065.4L1216,2083.2" stroke-width="1.7"/>
<rect x="1173.1" y="2083.2" width="42.9" height="5.8" stroke-width="1.8" fill="#fff"/>
<line x1="1173.1" y1="2086.1" x2="1216" y2="2086.1" stroke-width="1.2"/>
<path d="M1174.2,2089L1172.6,2100.5" stroke-width="1.7"/>
<path d="M1216,2089L1217.6,2100.5" stroke-width="1.7"/>
<line x1="1133.9" y1="2157.2" x2="1256.3" y2="2157.2" stroke-width="2.4"/>
<rect x="1128.1" y="2158.8" width="134" height="6.5" rx="3.1" fill="#7a7a7a" stroke-width="2.2"/>
</g>
<g class="k" stroke-width="1.5" stroke-linejoin="round">
<rect x="1193.5" y="1986.2" width="3.7" height="8.9" fill="#666"/>
<path d="M1192.3,1995.1L1198.2,1995.1L1198.2,2008L1192.3,2004.3Z"/>
<path d="M1198.2,2034.2L1198.2,2013.2L1192.8,2009.6L1192.8,2034.2"/>
</g>
<g class="k" stroke-width="2.0" stroke-linejoin="round">
<path d="M1171.7,2034.2L1219.2,2034.2L1219.2,2049.4L1216.2,2049.4L1216.2,2058.8L1174.8,2058.8L1174.8,2049.4L1171.7,2049.4Z" fill="#fff"/>
<rect x="1174.8" y="2057.6" width="41.4" height="4.7" fill="#333" stroke-width="1.4"/>
</g>
<rect x="1085.6" y="2166.1" width="218.6" height="7.5" fill="#fff" stroke="#000" stroke-width="2"/>
<line x1="1156.5" y1="2033.8" x2="1171.7" y2="2033.8" stroke="#000" stroke-width="0.9"/>
<line x1="1156.5" y1="2060.4" x2="1174.8" y2="2060.4" stroke="#000" stroke-width="0.9"/>
<line x1="1161.2" y1="2030.7" x2="1161.2" y2="2063.5" stroke="#000" stroke-width="0.9"/>
<path d="M1161.2,2033.8L1163.5,2043.8L1158.9,2043.8Z" fill="#000" stroke="none"/>
<path d="M1161.2,2060.4L1158.9,2050.4L1163.5,2050.4Z" fill="#000" stroke="none"/>
<text transform="translate(1148.3,2046.4) rotate(-90)" font-size="18.7" text-anchor="middle" fill="#000" textLength="20" lengthAdjust="spacingAndGlyphs" dy="0.344em">10</text>
<line x1="1011.9" y1="2033.1" x2="1080.4" y2="2033.1" stroke="#000" stroke-width="0.9"/>
<line x1="1011.9" y1="2166" x2="1076.9" y2="2166" stroke="#000" stroke-width="0.9"/>
<line x1="1018.4" y1="2030.1" x2="1018.4" y2="2169" stroke="#000" stroke-width="0.9"/>
<path d="M1018.4,2033.1L1020.9,2045.6L1015.9,2045.6Z" fill="#000" stroke="none"/>
<path d="M1018.4,2166L1015.9,2153.5L1020.9,2153.5Z" fill="#000" stroke="none"/>
<text transform="translate(1004.6,2095.1) rotate(-90)" font-size="18.7" text-anchor="middle" fill="#000" textLength="20" lengthAdjust="spacingAndGlyphs" dy="0.344em">55</text>
<g class="k" stroke-width="2.4">
<line x1="1195.1" y1="2116.6" x2="1146.1" y2="2318.5"/>
<line x1="1195.1" y1="2116.6" x2="1248.1" y2="2319.7"/>
<path d="M1166.6,2230 A35.3,35.3 0 0 0 1224.1,2225" stroke-width="1.9"/>
<path d="M1185.1,2237.5L1166.6,2230L1168.8,2249" stroke-width="3.4"/>
<path d="M1206.6,2234.4L1224.1,2225L1225.9,2243" stroke-width="3.4"/>
</g>
<text x="1198.6" y="2229.5" font-size="18.7" text-anchor="middle" textLength="27.2" lengthAdjust="spacingAndGlyphs" fill="#000">50°</text>
<g class="k" stroke-width="2.0" stroke-linejoin="round">
<line x1="1489.5" y1="2123.5" x2="1459" y2="2139.2" stroke-width="3.6"/>
<line x1="1458.8" y1="2139.2" x2="1408.2" y2="2163" stroke-width="7.4" stroke-linecap="round"/>
<line x1="1457.5" y1="2139.2" x2="1409" y2="2162" stroke-width="3.1" stroke="#fff"/>
<line x1="1457.5" y1="2139.5" x2="1409" y2="2162.3" stroke-width="0.9"/>
<rect x="1494.4" y="2122" width="2.6" height="43.5" fill="#bbb" stroke="none"/>
<line x1="1493.4" y1="2121" x2="1493.4" y2="2165.7"/>
<line x1="1497.6" y1="2121" x2="1497.6" y2="2165.7"/>
<line x1="1505.3" y1="2115.5" x2="1505.3" y2="2165.7"/>
<circle cx="1496.4" cy="2115.5" r="7.6" stroke-width="4.4" fill="#fff"/>
<line x1="1660.5" y1="2123.5" x2="1691" y2="2139.2" stroke-width="3.6"/>
<line x1="1691.2" y1="2139.2" x2="1741.8" y2="2163" stroke-width="7.4" stroke-linecap="round"/>
<line x1="1692.5" y1="2139.2" x2="1741" y2="2162" stroke-width="3.1" stroke="#fff"/>
<line x1="1692.5" y1="2139.5" x2="1741" y2="2162.3" stroke-width="0.9"/>
<rect x="1653" y="2122" width="2.6" height="43.5" fill="#bbb" stroke="none"/>
<line x1="1656.6" y1="2121" x2="1656.6" y2="2165.7"/>
<line x1="1652.4" y1="2121" x2="1652.4" y2="2165.7"/>
<line x1="1644.7" y1="2115.5" x2="1644.7" y2="2165.7"/>
<circle cx="1653.6" cy="2115.5" r="7.6" stroke-width="4.4" fill="#fff"/>
</g>
<g class="k" stroke-width="1.9" stroke-linejoin="round">
<path d="M1548,2100C1546.5,2101.3 1542.5,2104.1 1539.1,2107.8C1535.7,2111.6 1531.1,2116.7 1527.6,2122.5C1524.1,2128.2 1520.4,2136.5 1518.2,2142.4C1515.9,2148.2 1514.7,2155 1514,2157.6L1636,2157.6C1635.3,2155 1634.1,2148.2 1631.8,2142.4C1629.6,2136.5 1625.9,2128.2 1622.4,2122.5C1618.9,2116.7 1614.3,2111.6 1610.9,2107.8C1607.5,2104.1 1603.5,2101.3 1602,2100Z" fill="#fff"/>
<path d="M1553.2,2062.3L1596.7,2062.3L1601.9,2100.5L1548,2100.5Z" fill="#fff"/>
<path d="M1554.3,2083.2L1557.4,2065.4L1593,2065.4L1596.1,2083.2" stroke-width="1.7"/>
<rect x="1553.2" y="2083.2" width="42.9" height="5.8" stroke-width="1.8" fill="#fff"/>
<line x1="1553.2" y1="2086.1" x2="1596.1" y2="2086.1" stroke-width="1.2"/>
<path d="M1554.3,2089L1552.7,2100.5" stroke-width="1.7"/>
<path d="M1596.1,2089L1597.7,2100.5" stroke-width="1.7"/>
<line x1="1514" y1="2157.2" x2="1636.4" y2="2157.2" stroke-width="2.4"/>
<rect x="1508.2" y="2158.8" width="134" height="6.5" rx="3.1" fill="#7a7a7a" stroke-width="2.2"/>
</g>
<g class="k" stroke-width="1.5" stroke-linejoin="round">
<rect x="1573.6" y="1986.2" width="3.7" height="8.9" fill="#666"/>
<path d="M1572.4,1995.1L1578.3,1995.1L1578.3,2008L1572.4,2004.3Z"/>
<path d="M1578.3,2034.2L1578.3,2013.2L1572.9,2009.6L1572.9,2034.2"/>
</g>
<g class="k" stroke-width="2.0" stroke-linejoin="round">
<path d="M1551.8,2034.2L1599.3,2034.2L1599.3,2049.4L1596.3,2049.4L1596.3,2058.8L1554.9,2058.8L1554.9,2049.4L1551.8,2049.4Z" fill="#fff"/>
<rect x="1554.9" y="2057.6" width="41.4" height="4.7" fill="#333" stroke-width="1.4"/>
</g>
<rect x="1465.7" y="2166.1" width="218.6" height="7.5" fill="#fff" stroke="#000" stroke-width="2"/>
<line x1="1536.6" y1="2033.8" x2="1551.8" y2="2033.8" stroke="#000" stroke-width="0.9"/>
<line x1="1536.6" y1="2060.4" x2="1554.9" y2="2060.4" stroke="#000" stroke-width="0.9"/>
<line x1="1541.3" y1="2030.7" x2="1541.3" y2="2063.5" stroke="#000" stroke-width="0.9"/>
<path d="M1541.3,2033.8L1543.6,2043.8L1539,2043.8Z" fill="#000" stroke="none"/>
<path d="M1541.3,2060.4L1539,2050.4L1543.6,2050.4Z" fill="#000" stroke="none"/>
<text transform="translate(1528.4,2046.4) rotate(-90)" font-size="18.7" text-anchor="middle" fill="#000" textLength="20" lengthAdjust="spacingAndGlyphs" dy="0.344em">10</text>
<line x1="1392" y1="2033.1" x2="1460.5" y2="2033.1" stroke="#000" stroke-width="0.9"/>
<line x1="1392" y1="2166" x2="1457" y2="2166" stroke="#000" stroke-width="0.9"/>
<line x1="1398.5" y1="2030.1" x2="1398.5" y2="2169" stroke="#000" stroke-width="0.9"/>
<path d="M1398.5,2033.1L1401,2045.6L1396,2045.6Z" fill="#000" stroke="none"/>
<path d="M1398.5,2166L1396,2153.5L1401,2153.5Z" fill="#000" stroke="none"/>
<text transform="translate(1384.7,2095.1) rotate(-90)" font-size="18.7" text-anchor="middle" fill="#000" textLength="20" lengthAdjust="spacingAndGlyphs" dy="0.344em">55</text>
<g class="k" stroke-width="2.4">
<line x1="1572.4" y1="2129.8" x2="1390.2" y2="2260.9"/>
<line x1="1572.4" y1="2129.8" x2="1766" y2="2262"/>
<path d="M1496,2231.6 A100.8,100.8 0 0 0 1656.5,2231.6" stroke-width="2.2"/>
<path d="M1515.5,2240.1L1496,2231.6L1497.2,2252.6" stroke-width="3.6"/>
<path d="M1637,2240.1L1656.5,2231.6L1654.5,2252.6" stroke-width="3.6"/>
</g>
<text x="1578.7" y="2260" font-size="18.7" text-anchor="middle" textLength="37.2" lengthAdjust="spacingAndGlyphs" fill="#000">120°</text>
<g class="k" stroke-width="2.0" stroke-linejoin="round">
<line x1="1870.1" y1="2123.5" x2="1839.6" y2="2139.2" stroke-width="3.6"/>
<line x1="1839.4" y1="2139.2" x2="1788.8" y2="2163" stroke-width="7.4" stroke-linecap="round"/>
<line x1="1838.1" y1="2139.2" x2="1789.6" y2="2162" stroke-width="3.1" stroke="#fff"/>
<line x1="1838.1" y1="2139.5" x2="1789.6" y2="2162.3" stroke-width="0.9"/>
<rect x="1875" y="2122" width="2.6" height="43.5" fill="#bbb" stroke="none"/>
<line x1="1874" y1="2121" x2="1874" y2="2165.7"/>
<line x1="1878.2" y1="2121" x2="1878.2" y2="2165.7"/>
<line x1="1885.9" y1="2115.5" x2="1885.9" y2="2165.7"/>
<circle cx="1877" cy="2115.5" r="7.6" stroke-width="4.4" fill="#fff"/>
<line x1="2041.1" y1="2123.5" x2="2071.6" y2="2139.2" stroke-width="3.6"/>
<line x1="2071.8" y1="2139.2" x2="2122.4" y2="2163" stroke-width="7.4" stroke-linecap="round"/>
<line x1="2073.1" y1="2139.2" x2="2121.6" y2="2162" stroke-width="3.1" stroke="#fff"/>
<line x1="2073.1" y1="2139.5" x2="2121.6" y2="2162.3" stroke-width="0.9"/>
<rect x="2033.6" y="2122" width="2.6" height="43.5" fill="#bbb" stroke="none"/>
<line x1="2037.2" y1="2121" x2="2037.2" y2="2165.7"/>
<line x1="2033" y1="2121" x2="2033" y2="2165.7"/>
<line x1="2025.3" y1="2115.5" x2="2025.3" y2="2165.7"/>
<circle cx="2034.2" cy="2115.5" r="7.6" stroke-width="4.4" fill="#fff"/>
</g>
<g class="k" stroke-width="2.0" stroke-linejoin="round">
<path d="M1897.9,2134.2L1892.4,2158.6L2019.3,2158.6L2013.9,2134.2Z" stroke-width="1.6" fill="#fff"/>
<path d="M1888,2163.7 Q1955.6,2172.7 2023.4,2163.7" stroke-width="1.6"/>
<rect x="1887.6" y="2158.6" width="136.1" height="5.3" rx="1.3" fill="#fff" stroke-width="2.3"/>
<line x1="1892.4" y1="2159.3" x2="2019.3" y2="2159.3" stroke-width="2.6"/>
</g>
<path d="M1900.5,2058.5L2011.2,2058.5L2013.9,2135.2L1897.6,2135.2Z" fill="#fff"/>
<path d="M1900.3,2061.5L1903.4,2061.5L1901.7,2118.8L1900.9,2135L1897.6,2135L1898.3,2118.8ZM2011.1,2061.5L2008,2061.5L2009.6,2118.8L2010.5,2135L2013.8,2135L2013.1,2118.8ZM1904.8,2061.5L1908.7,2061.5L1907.1,2118.8L1906.4,2134.2L1903.6,2134.2L1903.3,2118.8ZM2006.6,2061.5L2002.7,2061.5L2004.3,2118.8L2004.9,2134.2L2007.8,2134.2L2008.1,2118.8ZM1910.2,2061.5L1913.4,2061.5L1911.5,2118.8L1911.8,2133L1909.9,2133L1908.7,2118.8ZM2001.2,2061.5L1998,2061.5L1999.9,2118.8L1999.6,2133L2001.5,2133L2002.7,2118.8ZM1914.2,2061.5L1918.4,2061.5L1917.2,2118.8L1914.9,2133L1913,2133L1913.7,2118.8ZM1997.2,2061.5L1993,2061.5L1994.2,2118.8L1996.5,2133L1998.4,2133L1997.7,2118.8ZM1921.8,2061.5L1924.8,2061.5L1923.1,2118.8L1922.3,2133.2L1920.1,2133.2L1921.1,2118.8ZM1989.6,2061.5L1986.6,2061.5L1988.3,2118.8L1989.1,2133.2L1991.2,2133.2L1990.3,2118.8ZM1925.7,2061.5L1929,2061.5L1927.9,2118.8L1925.6,2133.2L1923.5,2133.2L1924.6,2118.8ZM1985.7,2061.5L1982.4,2061.5L1983.5,2118.8L1985.8,2133.2L1987.9,2133.2L1986.8,2118.8ZM1933.1,2077L1935.4,2077L1935.2,2118.8L1934.6,2133.2L1932.4,2133.2L1932.9,2118.8ZM1978.3,2077L1976,2077L1976.2,2118.8L1976.8,2133.2L1979,2133.2L1978.5,2118.8ZM1937.3,2077L1939.6,2077L1939.5,2118.8L1938.9,2133.2L1936.7,2133.2L1937.1,2118.8ZM1974.1,2077L1971.7,2077L1971.9,2118.8L1972.5,2133.2L1974.7,2133.2L1974.3,2118.8ZM1945.4,2077L1947.7,2077L1947.6,2118.8L1947.3,2133.2L1945.1,2133.2L1945.4,2118.8ZM1965.9,2077L1963.6,2077L1963.8,2118.8L1964.1,2133.2L1966.3,2133.2L1966,2118.8ZM1950,2077L1952.4,2077L1952.3,2118.8L1952.1,2133.2L1949.9,2133.2L1950,2118.8ZM1961.4,2077L1959,2077L1959.1,2118.8L1959.3,2133.2L1961.5,2133.2L1961.4,2118.8Z" fill="#000"/>
<path d="M1913.2,2061.5L1914.3,2061.5L1913.7,2118.8L1912.7,2131.3L1911.5,2118.8Z" fill="#666"/>
<path d="M1998.1,2061.5L1997.1,2061.5L1997.7,2118.8L1998.7,2131.3L1999.9,2118.8Z" fill="#666"/>
<g stroke="#000" fill="none" stroke-linecap="round">
<path d="M1899.3,2133Q1901.9,2136.9 1904.6,2133" stroke-width="2.1"/>
<path d="M2012.1,2133Q2009.5,2136.9 2006.8,2133" stroke-width="2.1"/>
<path d="M1910.9,2133Q1912.4,2136.9 1914,2133" stroke-width="2.1"/>
<path d="M2000.5,2133Q1999,2136.9 1997.4,2133" stroke-width="2.1"/>
<path d="M1921.3,2133Q1922.9,2136.9 1924.6,2133" stroke-width="2.1"/>
<path d="M1990.1,2133Q1988.5,2136.9 1986.8,2133" stroke-width="2.1"/>
<path d="M1933.6,2133Q1935.7,2136.9 1937.8,2133" stroke-width="2.1"/>
<path d="M1977.8,2133Q1975.7,2136.9 1973.6,2133" stroke-width="2.1"/>
<path d="M1946.3,2133Q1948.7,2136.9 1951,2133" stroke-width="2.1"/>
<path d="M1965.1,2133Q1962.7,2136.9 1960.4,2133" stroke-width="2.1"/>
</g>
<rect x="1916.8" y="2120.9" width="77.8" height="1.9" fill="#000"/>
<rect x="1900.7" y="2058" width="110" height="3.6" fill="#000" rx="0.8"/>
<path d="M1934.1,2060.9L1934.1,2075.7L1977.3,2075.7L1977.3,2060.9" stroke="#000" stroke-width="3.3" fill="#fff" stroke-linejoin="round"/>
<path d="M1947.8,2075.3L1947.8,2069Q1947.8,2066.8 1950.1,2066.8L1961.3,2066.8Q1963.6,2066.8 1963.6,2069L1963.6,2075.3" stroke="#000" stroke-width="2.5" fill="#fff"/>
<rect x="1846.3" y="2166.1" width="218.6" height="7.5" fill="#fff" stroke="#000" stroke-width="2"/>
<line x1="1772.6" y1="2057.7" x2="1841.1" y2="2057.7" stroke="#000" stroke-width="0.9"/>
<line x1="1772.6" y1="2166" x2="1837.6" y2="2166" stroke="#000" stroke-width="0.9"/>
<line x1="1779.1" y1="2054.7" x2="1779.1" y2="2169" stroke="#000" stroke-width="0.9"/>
<path d="M1779.1,2057.7L1781.6,2070.2L1776.6,2070.2Z" fill="#000" stroke="none"/>
<path d="M1779.1,2166L1776.6,2153.5L1781.6,2153.5Z" fill="#000" stroke="none"/>
<text transform="translate(1765.3,2109.4) rotate(-90)" font-size="18.7" text-anchor="middle" fill="#000" textLength="20" lengthAdjust="spacingAndGlyphs" dy="0.344em">42</text>
<g class="k" stroke-width="2.4">
<line x1="1955.6" y1="2129.8" x2="1773.4" y2="2260.9"/>
<line x1="1955.6" y1="2129.8" x2="2149.2" y2="2262"/>
<path d="M1879.2,2231.6 A100.8,100.8 0 0 0 2039.7,2231.6" stroke-width="2.2"/>
<path d="M1898.7,2240.1L1879.2,2231.6L1880.4,2252.6" stroke-width="3.6"/>
<path d="M2020.2,2240.1L2039.7,2231.6L2037.7,2252.6" stroke-width="3.6"/>
</g>
<text x="1961.9" y="2260" font-size="18.7" text-anchor="middle" textLength="37.2" lengthAdjust="spacingAndGlyphs" fill="#000">120°</text>
<g class="k" stroke-width="2.0" stroke-linejoin="round">
<line x1="2252" y1="2123.5" x2="2221.5" y2="2139.2" stroke-width="3.6"/>
<line x1="2221.3" y1="2139.2" x2="2170.7" y2="2163" stroke-width="7.4" stroke-linecap="round"/>
<line x1="2220" y1="2139.2" x2="2171.5" y2="2162" stroke-width="3.1" stroke="#fff"/>
<line x1="2220" y1="2139.5" x2="2171.5" y2="2162.3" stroke-width="0.9"/>
<rect x="2256.9" y="2122" width="2.6" height="43.5" fill="#bbb" stroke="none"/>
<line x1="2255.9" y1="2121" x2="2255.9" y2="2165.7"/>
<line x1="2260.1" y1="2121" x2="2260.1" y2="2165.7"/>
<line x1="2267.8" y1="2115.5" x2="2267.8" y2="2165.7"/>
<circle cx="2258.9" cy="2115.5" r="7.6" stroke-width="4.4" fill="#fff"/>
<line x1="2423" y1="2123.5" x2="2453.5" y2="2139.2" stroke-width="3.6"/>
<line x1="2453.7" y1="2139.2" x2="2504.3" y2="2163" stroke-width="7.4" stroke-linecap="round"/>
<line x1="2455" y1="2139.2" x2="2503.5" y2="2162" stroke-width="3.1" stroke="#fff"/>
<line x1="2455" y1="2139.5" x2="2503.5" y2="2162.3" stroke-width="0.9"/>
<rect x="2415.5" y="2122" width="2.6" height="43.5" fill="#bbb" stroke="none"/>
<line x1="2419.1" y1="2121" x2="2419.1" y2="2165.7"/>
<line x1="2414.9" y1="2121" x2="2414.9" y2="2165.7"/>
<line x1="2407.2" y1="2115.5" x2="2407.2" y2="2165.7"/>
<circle cx="2416.1" cy="2115.5" r="7.6" stroke-width="4.4" fill="#fff"/>
</g>
<g class="k" stroke-width="2.0" stroke-linejoin="round">
<path d="M2279.8,2135.9L2274.3,2160.3L2401.2,2160.3L2395.8,2135.9Z" stroke-width="1.6" fill="#fff"/>
<rect x="2269.5" y="2160.3" width="136.1" height="5.3" rx="1.3" fill="#fff" stroke-width="2.3"/>
<line x1="2274.3" y1="2161" x2="2401.2" y2="2161" stroke-width="2.6"/>
</g>
<path d="M2282.4,2060.2L2393.1,2060.2L2395.8,2136.9L2279.5,2136.9Z" fill="#fff"/>
<path d="M2282.2,2063.2L2285.3,2063.2L2283.6,2120.5L2282.8,2136.7L2279.5,2136.7L2280.2,2120.5ZM2393,2063.2L2389.9,2063.2L2391.5,2120.5L2392.4,2136.7L2395.7,2136.7L2395,2120.5ZM2286.7,2063.2L2290.6,2063.2L2289,2120.5L2288.3,2135.9L2285.5,2135.9L2285.2,2120.5ZM2388.5,2063.2L2384.6,2063.2L2386.2,2120.5L2386.8,2135.9L2389.7,2135.9L2390,2120.5ZM2292.1,2063.2L2295.3,2063.2L2293.4,2120.5L2293.7,2134.7L2291.8,2134.7L2290.6,2120.5ZM2383.1,2063.2L2379.9,2063.2L2381.8,2120.5L2381.5,2134.7L2383.4,2134.7L2384.6,2120.5ZM2296.1,2063.2L2300.3,2063.2L2299.1,2120.5L2296.8,2134.7L2294.9,2134.7L2295.6,2120.5ZM2379.1,2063.2L2374.9,2063.2L2376.1,2120.5L2378.4,2134.7L2380.3,2134.7L2379.6,2120.5ZM2303.7,2063.2L2306.7,2063.2L2305,2120.5L2304.2,2134.9L2302,2134.9L2303,2120.5ZM2371.5,2063.2L2368.5,2063.2L2370.2,2120.5L2371,2134.9L2373.1,2134.9L2372.2,2120.5ZM2307.6,2063.2L2310.9,2063.2L2309.8,2120.5L2307.5,2134.9L2305.4,2134.9L2306.5,2120.5ZM2367.6,2063.2L2364.3,2063.2L2365.4,2120.5L2367.7,2134.9L2369.8,2134.9L2368.7,2120.5ZM2315,2078.7L2317.3,2078.7L2317.1,2120.5L2316.5,2134.9L2314.3,2134.9L2314.8,2120.5ZM2360.2,2078.7L2357.9,2078.7L2358.1,2120.5L2358.7,2134.9L2360.9,2134.9L2360.4,2120.5ZM2319.2,2078.7L2321.5,2078.7L2321.4,2120.5L2320.8,2134.9L2318.6,2134.9L2319,2120.5ZM2356,2078.7L2353.6,2078.7L2353.8,2120.5L2354.4,2134.9L2356.6,2134.9L2356.2,2120.5ZM2327.3,2078.7L2329.6,2078.7L2329.5,2120.5L2329.2,2134.9L2327,2134.9L2327.3,2120.5ZM2347.8,2078.7L2345.5,2078.7L2345.7,2120.5L2346,2134.9L2348.2,2134.9L2347.9,2120.5ZM2331.9,2078.7L2334.3,2078.7L2334.2,2120.5L2334,2134.9L2331.8,2134.9L2331.9,2120.5ZM2343.3,2078.7L2340.9,2078.7L2341,2120.5L2341.2,2134.9L2343.4,2134.9L2343.3,2120.5Z" fill="#000"/>
<path d="M2295.1,2063.2L2296.2,2063.2L2295.6,2120.5L2294.6,2133L2293.4,2120.5Z" fill="#666"/>
<path d="M2380,2063.2L2379,2063.2L2379.6,2120.5L2380.6,2133L2381.8,2120.5Z" fill="#666"/>
<g stroke="#000" fill="none" stroke-linecap="round">
<path d="M2281.2,2134.7Q2283.8,2138.6 2286.5,2134.7" stroke-width="2.1"/>
<path d="M2394,2134.7Q2391.4,2138.6 2388.7,2134.7" stroke-width="2.1"/>
<path d="M2292.8,2134.7Q2294.3,2138.6 2295.9,2134.7" stroke-width="2.1"/>
<path d="M2382.4,2134.7Q2380.9,2138.6 2379.3,2134.7" stroke-width="2.1"/>
<path d="M2303.2,2134.7Q2304.8,2138.6 2306.5,2134.7" stroke-width="2.1"/>
<path d="M2372,2134.7Q2370.4,2138.6 2368.7,2134.7" stroke-width="2.1"/>
<path d="M2315.5,2134.7Q2317.6,2138.6 2319.7,2134.7" stroke-width="2.1"/>
<path d="M2359.7,2134.7Q2357.6,2138.6 2355.5,2134.7" stroke-width="2.1"/>
<path d="M2328.2,2134.7Q2330.6,2138.6 2332.9,2134.7" stroke-width="2.1"/>
<path d="M2347,2134.7Q2344.6,2138.6 2342.3,2134.7" stroke-width="2.1"/>
</g>
<rect x="2298.7" y="2122.6" width="77.8" height="1.9" fill="#000"/>
<rect x="2282.6" y="2059.7" width="110" height="3.6" fill="#000" rx="0.8"/>
<path d="M2316,2062.6L2316,2077.4L2359.2,2077.4L2359.2,2062.6" stroke="#000" stroke-width="3.3" fill="#fff" stroke-linejoin="round"/>
<path d="M2329.7,2077L2329.7,2070.7Q2329.7,2068.5 2332,2068.5L2343.2,2068.5Q2345.5,2068.5 2345.5,2070.7L2345.5,2077" stroke="#000" stroke-width="2.5" fill="#fff"/>
<rect x="2228.2" y="2166.1" width="218.6" height="7.5" fill="#fff" stroke="#000" stroke-width="2"/>
<line x1="2154.5" y1="2061.4" x2="2223" y2="2061.4" stroke="#000" stroke-width="0.9"/>
<line x1="2154.5" y1="2166" x2="2219.5" y2="2166" stroke="#000" stroke-width="0.9"/>
<line x1="2161" y1="2058.4" x2="2161" y2="2169" stroke="#000" stroke-width="0.9"/>
<path d="M2161,2061.4L2163.5,2073.9L2158.5,2073.9Z" fill="#000" stroke="none"/>
<path d="M2161,2166L2158.5,2153.5L2163.5,2153.5Z" fill="#000" stroke="none"/>
<text transform="translate(2147.2,2112.2) rotate(-90)" font-size="18.7" text-anchor="middle" fill="#000" textLength="20" lengthAdjust="spacingAndGlyphs" dy="0.344em">39</text>
<g class="k" stroke-width="2.4">
<line x1="2337.1" y1="2116.6" x2="2288.1" y2="2318.5"/>
<line x1="2337.1" y1="2116.6" x2="2390.1" y2="2319.7"/>
<path d="M2307.6,2229.5 A36.2,36.2 0 0 0 2366,2224" stroke-width="1.9"/>
<path d="M2326.1,2237L2307.6,2229.5L2309.8,2248.5" stroke-width="3.4"/>
<path d="M2348.5,2233.4L2366,2224L2367.8,2242" stroke-width="3.4"/>
</g>
<text x="2340.5" y="2229.6" font-size="18.7" text-anchor="middle" textLength="27.2" lengthAdjust="spacingAndGlyphs" fill="#000">50°</text>
<path d="M2328.3,2287.7L2346.9,2287.7L2346.9,2279.4Z" fill="#000"/>
<text x="2337.1" y="2300.3" font-size="9.9" text-anchor="middle" textLength="77" lengthAdjust="spacingAndGlyphs" fill="#000">TRIAC DIMMABLE</text>
<g class="k" stroke-width="2.0" stroke-linejoin="round">
<line x1="2635.2" y1="2123.5" x2="2604.7" y2="2139.2" stroke-width="3.6"/>
<line x1="2604.5" y1="2139.2" x2="2553.9" y2="2163" stroke-width="7.4" stroke-linecap="round"/>
<line x1="2603.2" y1="2139.2" x2="2554.7" y2="2162" stroke-width="3.1" stroke="#fff"/>
<line x1="2603.2" y1="2139.5" x2="2554.7" y2="2162.3" stroke-width="0.9"/>
<rect x="2640.1" y="2122" width="2.6" height="43.5" fill="#bbb" stroke="none"/>
<line x1="2639.1" y1="2121" x2="2639.1" y2="2165.7"/>
<line x1="2643.3" y1="2121" x2="2643.3" y2="2165.7"/>
<line x1="2651" y1="2115.5" x2="2651" y2="2165.7"/>
<circle cx="2642.1" cy="2115.5" r="7.6" stroke-width="4.4" fill="#fff"/>
<line x1="2806.2" y1="2123.5" x2="2836.7" y2="2139.2" stroke-width="3.6"/>
<line x1="2836.9" y1="2139.2" x2="2887.5" y2="2163" stroke-width="7.4" stroke-linecap="round"/>
<line x1="2838.2" y1="2139.2" x2="2886.7" y2="2162" stroke-width="3.1" stroke="#fff"/>
<line x1="2838.2" y1="2139.5" x2="2886.7" y2="2162.3" stroke-width="0.9"/>
<rect x="2798.7" y="2122" width="2.6" height="43.5" fill="#bbb" stroke="none"/>
<line x1="2802.3" y1="2121" x2="2802.3" y2="2165.7"/>
<line x1="2798.1" y1="2121" x2="2798.1" y2="2165.7"/>
<line x1="2790.4" y1="2115.5" x2="2790.4" y2="2165.7"/>
<circle cx="2799.3" cy="2115.5" r="7.6" stroke-width="4.4" fill="#fff"/>
</g>
<g class="k" stroke-width="1.8" stroke-linejoin="round">
<path d="M2669.9,2120.7L2658.9,2159.1L2783,2159.1L2775.8,2131" fill="#fff"/>
<rect x="2653.8" y="2159.3" width="133.8" height="5.7" rx="1.3" fill="#fff" stroke-width="2.3"/>
<line x1="2657.9" y1="2159.7" x2="2783.5" y2="2159.7" stroke-width="2.6"/>
<path d="M2670.6,2103.2L2775,2103.2L2775.8,2130.8L2766.4,2130.8L2763.8,2121.4L2673.7,2121.4L2670.9,2119.8Z" fill="#fff"/>
<line x1="2671.4" y1="2103.2" x2="2775" y2="2103.2" stroke-width="2.8"/>
<line x1="2673.7" y1="2104.5" x2="2673.7" y2="2121.4" stroke-width="1.5"/>
<line x1="2762.6" y1="2103.5" x2="2762.6" y2="2121.2" stroke-width="3.6"/>
<line x1="2768.1" y1="2104.5" x2="2768.1" y2="2130.8" stroke-width="1.6"/>
</g>
<rect x="2611.4" y="2166.1" width="218.6" height="7.5" fill="#fff" stroke="#000" stroke-width="2"/>
<line x1="2537.7" y1="2103.3" x2="2606.2" y2="2103.3" stroke="#000" stroke-width="0.9"/>
<line x1="2537.7" y1="2166" x2="2602.7" y2="2166" stroke="#000" stroke-width="0.9"/>
<line x1="2544.2" y1="2100.3" x2="2544.2" y2="2169" stroke="#000" stroke-width="0.9"/>
<path d="M2544.2,2103.3L2546.7,2115.8L2541.7,2115.8Z" fill="#000" stroke="none"/>
<path d="M2544.2,2166L2541.7,2153.5L2546.7,2153.5Z" fill="#000" stroke="none"/>
<text transform="translate(2530.4,2131.6) rotate(-90)" font-size="18.7" text-anchor="middle" fill="#000" textLength="20" lengthAdjust="spacingAndGlyphs" dy="0.344em">29</text>
<g class="k" stroke-width="2.4">
<line x1="2719.8" y1="2118.3" x2="2681.9" y2="2321.5"/>
<line x1="2719.8" y1="2118.3" x2="2759.5" y2="2319.1"/>
<path d="M2695.8,2238.4 A26.2,26.2 0 0 0 2742.9,2233.2" stroke-width="1.9"/>
<path d="M2714.3,2245.9L2695.8,2238.4L2698,2257.4" stroke-width="3.4"/>
<path d="M2725.4,2242.6L2742.9,2233.2L2744.7,2251.2" stroke-width="3.4"/>
</g>
<text x="2721.6" y="2233.8" font-size="18.7" text-anchor="middle" textLength="27.2" lengthAdjust="spacingAndGlyphs" fill="#000">38°</text>
<g class="k" stroke-width="2.0" stroke-linejoin="round">
<line x1="3019.9" y1="2123.5" x2="2989.4" y2="2139.2" stroke-width="3.6"/>
<line x1="2989.2" y1="2139.2" x2="2938.6" y2="2163" stroke-width="7.4" stroke-linecap="round"/>
<line x1="2987.9" y1="2139.2" x2="2939.4" y2="2162" stroke-width="3.1" stroke="#fff"/>
<line x1="2987.9" y1="2139.5" x2="2939.4" y2="2162.3" stroke-width="0.9"/>
<rect x="3024.8" y="2122" width="2.6" height="43.5" fill="#bbb" stroke="none"/>
<line x1="3023.8" y1="2121" x2="3023.8" y2="2165.7"/>
<line x1="3028" y1="2121" x2="3028" y2="2165.7"/>
<line x1="3035.7" y1="2115.5" x2="3035.7" y2="2165.7"/>
<circle cx="3026.8" cy="2115.5" r="7.6" stroke-width="4.4" fill="#fff"/>
<line x1="3190.9" y1="2123.5" x2="3221.4" y2="2139.2" stroke-width="3.6"/>
<line x1="3221.6" y1="2139.2" x2="3272.2" y2="2163" stroke-width="7.4" stroke-linecap="round"/>
<line x1="3222.9" y1="2139.2" x2="3271.4" y2="2162" stroke-width="3.1" stroke="#fff"/>
<line x1="3222.9" y1="2139.5" x2="3271.4" y2="2162.3" stroke-width="0.9"/>
<rect x="3183.4" y="2122" width="2.6" height="43.5" fill="#bbb" stroke="none"/>
<line x1="3187" y1="2121" x2="3187" y2="2165.7"/>
<line x1="3182.8" y1="2121" x2="3182.8" y2="2165.7"/>
<line x1="3175.1" y1="2115.5" x2="3175.1" y2="2165.7"/>
<circle cx="3184" cy="2115.5" r="7.6" stroke-width="4.4" fill="#fff"/>
</g>
<g class="k" stroke-width="1.8" stroke-linejoin="round">
<path d="M3054.6,2120.7L3043.6,2159.1L3167.7,2159.1L3160.5,2131" fill="#fff"/>
<rect x="3038.5" y="2159.3" width="133.8" height="5.7" rx="1.3" fill="#fff" stroke-width="2.3"/>
<line x1="3042.6" y1="2159.7" x2="3168.2" y2="2159.7" stroke-width="2.6"/>
<path d="M3055.3,2103.2L3159.7,2103.2L3160.5,2130.8L3151.1,2130.8L3148.5,2121.4L3058.4,2121.4L3055.6,2119.8Z" fill="#fff"/>
<line x1="3056.1" y1="2103.2" x2="3159.7" y2="2103.2" stroke-width="2.8"/>
<line x1="3058.4" y1="2104.5" x2="3058.4" y2="2121.4" stroke-width="1.5"/>
<line x1="3147.3" y1="2103.5" x2="3147.3" y2="2121.2" stroke-width="3.6"/>
<line x1="3152.8" y1="2104.5" x2="3152.8" y2="2130.8" stroke-width="1.6"/>
</g>
<rect x="2996.1" y="2166.1" width="218.6" height="7.5" fill="#fff" stroke="#000" stroke-width="2"/>
<line x1="2922.4" y1="2103.3" x2="2990.9" y2="2103.3" stroke="#000" stroke-width="0.9"/>
<line x1="2922.4" y1="2166" x2="2987.4" y2="2166" stroke="#000" stroke-width="0.9"/>
<line x1="2928.9" y1="2100.3" x2="2928.9" y2="2169" stroke="#000" stroke-width="0.9"/>
<path d="M2928.9,2103.3L2931.4,2115.8L2926.4,2115.8Z" fill="#000" stroke="none"/>
<path d="M2928.9,2166L2926.4,2153.5L2931.4,2153.5Z" fill="#000" stroke="none"/>
<text transform="translate(2915.1,2131.6) rotate(-90)" font-size="18.7" text-anchor="middle" fill="#000" textLength="20" lengthAdjust="spacingAndGlyphs" dy="0.344em">29</text>
<g class="k" stroke-width="2.4">
<line x1="3104.2" y1="2116.6" x2="3056.2" y2="2316"/>
<line x1="3104.2" y1="2116.6" x2="3156.5" y2="2315.4"/>
<path d="M3075.7,2229.5 A35.5,35.5 0 0 0 3133.4,2224" stroke-width="1.9"/>
<path d="M3094.2,2237L3075.7,2229.5L3077.9,2248.5" stroke-width="3.4"/>
<path d="M3115.9,2233.4L3133.4,2224L3135.2,2242" stroke-width="3.4"/>
</g>
<text x="3107.9" y="2229.6" font-size="18.7" text-anchor="middle" textLength="27.2" lengthAdjust="spacingAndGlyphs" fill="#000">50°</text>
<path d="M3078.6,520.3h49.7v7.2h-49.7zM3156.5,520.3h7.2v7.2h-7.2zM3191.9,520.3h14.3v7.2h-14.3zM3213.1,520.3h28.5v7.2h-28.5zM3248.5,520.3h7.2v7.2h-7.2zM3262.6,520.3h49.7v7.2h-49.7zM3078.6,527.4h7.2v7.2h-7.2zM3121.1,527.4h7.2v7.2h-7.2zM3135.2,527.4h7.2v7.2h-7.2zM3149.4,527.4h21.4v7.2h-21.4zM3184.8,527.4h21.4v7.2h-21.4zM3213.1,527.4h7.2v7.2h-7.2zM3234.3,527.4h7.2v7.2h-7.2zM3262.6,527.4h7.2v7.2h-7.2zM3305.1,527.4h7.2v7.2h-7.2zM3078.6,534.5h7.2v7.2h-7.2zM3092.8,534.5h21.4v7.2h-21.4zM3121.1,534.5h7.2v7.2h-7.2zM3135.2,534.5h7.2v7.2h-7.2zM3163.5,534.5h7.2v7.2h-7.2zM3184.8,534.5h7.2v7.2h-7.2zM3198.9,534.5h42.6v7.2h-42.6zM3248.5,534.5h7.2v7.2h-7.2zM3262.6,534.5h7.2v7.2h-7.2zM3276.8,534.5h21.4v7.2h-21.4zM3305.1,534.5h7.2v7.2h-7.2zM3078.6,541.5h7.2v7.2h-7.2zM3092.8,541.5h21.4v7.2h-21.4zM3121.1,541.5h7.2v7.2h-7.2zM3135.2,541.5h21.4v7.2h-21.4zM3170.6,541.5h42.6v7.2h-42.6zM3227.3,541.5h21.4v7.2h-21.4zM3262.6,541.5h7.2v7.2h-7.2zM3276.8,541.5h21.4v7.2h-21.4zM3305.1,541.5h7.2v7.2h-7.2zM3078.6,548.6h7.2v7.2h-7.2zM3092.8,548.6h21.4v7.2h-21.4zM3121.1,548.6h7.2v7.2h-7.2zM3135.2,548.6h35.5v7.2h-35.5zM3220.2,548.6h28.5v7.2h-28.5zM3262.6,548.6h7.2v7.2h-7.2zM3276.8,548.6h21.4v7.2h-21.4zM3305.1,548.6h7.2v7.2h-7.2zM3078.6,555.7h7.2v7.2h-7.2zM3121.1,555.7h7.2v7.2h-7.2zM3135.2,555.7h7.2v7.2h-7.2zM3163.5,555.7h21.4v7.2h-21.4zM3198.9,555.7h35.5v7.2h-35.5zM3241.4,555.7h7.2v7.2h-7.2zM3262.6,555.7h7.2v7.2h-7.2zM3305.1,555.7h7.2v7.2h-7.2zM3078.6,562.8h49.7v7.2h-49.7zM3135.2,562.8h7.2v7.2h-7.2zM3149.4,562.8h7.2v7.2h-7.2zM3163.5,562.8h7.2v7.2h-7.2zM3177.7,562.8h7.2v7.2h-7.2zM3191.9,562.8h7.2v7.2h-7.2zM3206,562.8h7.2v7.2h-7.2zM3220.2,562.8h7.2v7.2h-7.2zM3234.3,562.8h7.2v7.2h-7.2zM3248.5,562.8h7.2v7.2h-7.2zM3262.6,562.8h49.7v7.2h-49.7zM3142.3,569.9h7.2v7.2h-7.2zM3156.5,569.9h7.2v7.2h-7.2zM3184.8,569.9h7.2v7.2h-7.2zM3220.2,569.9h7.2v7.2h-7.2zM3241.4,569.9h14.3v7.2h-14.3zM3092.8,576.9h7.2v7.2h-7.2zM3114,576.9h28.5v7.2h-28.5zM3149.4,576.9h7.2v7.2h-7.2zM3177.7,576.9h7.2v7.2h-7.2zM3206,576.9h21.4v7.2h-21.4zM3234.3,576.9h7.2v7.2h-7.2zM3255.6,576.9h7.2v7.2h-7.2zM3269.7,576.9h35.5v7.2h-35.5zM3078.6,584h42.6v7.2h-42.6zM3142.3,584h7.2v7.2h-7.2zM3156.5,584h28.5v7.2h-28.5zM3234.3,584h14.3v7.2h-14.3zM3255.6,584h21.4v7.2h-21.4zM3283.9,584h14.3v7.2h-14.3zM3305.1,584h7.2v7.2h-7.2zM3099.8,591.1h14.3v7.2h-14.3zM3121.1,591.1h21.4v7.2h-21.4zM3163.5,591.1h7.2v7.2h-7.2zM3198.9,591.1h7.2v7.2h-7.2zM3213.1,591.1h7.2v7.2h-7.2zM3227.3,591.1h21.4v7.2h-21.4zM3255.6,591.1h7.2v7.2h-7.2zM3269.7,591.1h21.4v7.2h-21.4zM3305.1,591.1h7.2v7.2h-7.2zM3092.8,598.2h21.4v7.2h-21.4zM3142.3,598.2h14.3v7.2h-14.3zM3163.5,598.2h7.2v7.2h-7.2zM3177.7,598.2h7.2v7.2h-7.2zM3191.9,598.2h7.2v7.2h-7.2zM3206,598.2h7.2v7.2h-7.2zM3220.2,598.2h7.2v7.2h-7.2zM3234.3,598.2h21.4v7.2h-21.4zM3269.7,598.2h7.2v7.2h-7.2zM3283.9,598.2h7.2v7.2h-7.2zM3078.6,605.2h14.3v7.2h-14.3zM3106.9,605.2h21.4v7.2h-21.4zM3142.3,605.2h14.3v7.2h-14.3zM3163.5,605.2h7.2v7.2h-7.2zM3184.8,605.2h21.4v7.2h-21.4zM3213.1,605.2h7.2v7.2h-7.2zM3227.3,605.2h21.4v7.2h-21.4zM3262.6,605.2h7.2v7.2h-7.2zM3276.8,605.2h7.2v7.2h-7.2zM3078.6,612.3h14.3v7.2h-14.3zM3099.8,612.3h14.3v7.2h-14.3zM3128.2,612.3h28.5v7.2h-28.5zM3184.8,612.3h14.3v7.2h-14.3zM3206,612.3h14.3v7.2h-14.3zM3227.3,612.3h42.6v7.2h-42.6zM3283.9,612.3h7.2v7.2h-7.2zM3305.1,612.3h7.2v7.2h-7.2zM3085.7,619.4h14.3v7.2h-14.3zM3106.9,619.4h28.5v7.2h-28.5zM3149.4,619.4h7.2v7.2h-7.2zM3163.5,619.4h14.3v7.2h-14.3zM3198.9,619.4h14.3v7.2h-14.3zM3241.4,619.4h7.2v7.2h-7.2zM3276.8,619.4h14.3v7.2h-14.3zM3305.1,619.4h7.2v7.2h-7.2zM3078.6,626.5h21.4v7.2h-21.4zM3106.9,626.5h7.2v7.2h-7.2zM3135.2,626.5h21.4v7.2h-21.4zM3163.5,626.5h7.2v7.2h-7.2zM3177.7,626.5h7.2v7.2h-7.2zM3191.9,626.5h14.3v7.2h-14.3zM3220.2,626.5h7.2v7.2h-7.2zM3234.3,626.5h14.3v7.2h-14.3zM3255.6,626.5h14.3v7.2h-14.3zM3298,626.5h14.3v7.2h-14.3zM3085.7,633.6h28.5v7.2h-28.5zM3121.1,633.6h7.2v7.2h-7.2zM3142.3,633.6h7.2v7.2h-7.2zM3156.5,633.6h21.4v7.2h-21.4zM3184.8,633.6h14.3v7.2h-14.3zM3213.1,633.6h7.2v7.2h-7.2zM3234.3,633.6h14.3v7.2h-14.3zM3255.6,633.6h21.4v7.2h-21.4zM3283.9,633.6h21.4v7.2h-21.4zM3078.6,640.6h7.2v7.2h-7.2zM3106.9,640.6h7.2v7.2h-7.2zM3135.2,640.6h7.2v7.2h-7.2zM3156.5,640.6h7.2v7.2h-7.2zM3177.7,640.6h7.2v7.2h-7.2zM3198.9,640.6h7.2v7.2h-7.2zM3220.2,640.6h7.2v7.2h-7.2zM3241.4,640.6h7.2v7.2h-7.2zM3255.6,640.6h14.3v7.2h-14.3zM3291,640.6h21.4v7.2h-21.4zM3099.8,647.7h14.3v7.2h-14.3zM3121.1,647.7h7.2v7.2h-7.2zM3170.6,647.7h7.2v7.2h-7.2zM3184.8,647.7h7.2v7.2h-7.2zM3227.3,647.7h21.4v7.2h-21.4zM3276.8,647.7h35.5v7.2h-35.5zM3085.7,654.8h7.2v7.2h-7.2zM3099.8,654.8h7.2v7.2h-7.2zM3114,654.8h7.2v7.2h-7.2zM3128.2,654.8h14.3v7.2h-14.3zM3149.4,654.8h7.2v7.2h-7.2zM3170.6,654.8h14.3v7.2h-14.3zM3191.9,654.8h21.4v7.2h-21.4zM3234.3,654.8h14.3v7.2h-14.3zM3262.6,654.8h14.3v7.2h-14.3zM3283.9,654.8h7.2v7.2h-7.2zM3092.8,661.9h7.2v7.2h-7.2zM3106.9,661.9h7.2v7.2h-7.2zM3121.1,661.9h28.5v7.2h-28.5zM3156.5,661.9h49.7v7.2h-49.7zM3220.2,661.9h7.2v7.2h-7.2zM3241.4,661.9h7.2v7.2h-7.2zM3269.7,661.9h7.2v7.2h-7.2zM3298,661.9h14.3v7.2h-14.3zM3085.7,669h7.2v7.2h-7.2zM3106.9,669h7.2v7.2h-7.2zM3149.4,669h21.4v7.2h-21.4zM3191.9,669h21.4v7.2h-21.4zM3220.2,669h7.2v7.2h-7.2zM3234.3,669h7.2v7.2h-7.2zM3269.7,669h7.2v7.2h-7.2zM3291,669h7.2v7.2h-7.2zM3305.1,669h7.2v7.2h-7.2zM3078.6,676h21.4v7.2h-21.4zM3106.9,676h21.4v7.2h-21.4zM3135.2,676h35.5v7.2h-35.5zM3177.7,676h7.2v7.2h-7.2zM3191.9,676h7.2v7.2h-7.2zM3213.1,676h7.2v7.2h-7.2zM3227.3,676h21.4v7.2h-21.4zM3255.6,676h14.3v7.2h-14.3zM3291,676h21.4v7.2h-21.4zM3092.8,683.1h14.3v7.2h-14.3zM3114,683.1h7.2v7.2h-7.2zM3128.2,683.1h35.5v7.2h-35.5zM3184.8,683.1h21.4v7.2h-21.4zM3213.1,683.1h14.3v7.2h-14.3zM3269.7,683.1h7.2v7.2h-7.2zM3283.9,683.1h7.2v7.2h-7.2zM3305.1,683.1h7.2v7.2h-7.2zM3078.6,690.2h21.4v7.2h-21.4zM3114,690.2h14.3v7.2h-14.3zM3135.2,690.2h7.2v7.2h-7.2zM3149.4,690.2h7.2v7.2h-7.2zM3163.5,690.2h7.2v7.2h-7.2zM3191.9,690.2h7.2v7.2h-7.2zM3213.1,690.2h14.3v7.2h-14.3zM3234.3,690.2h56.8v7.2h-56.8zM3298,690.2h14.3v7.2h-14.3zM3135.2,697.3h14.3v7.2h-14.3zM3163.5,697.3h14.3v7.2h-14.3zM3184.8,697.3h28.5v7.2h-28.5zM3220.2,697.3h35.5v7.2h-35.5zM3276.8,697.3h7.2v7.2h-7.2zM3305.1,697.3h7.2v7.2h-7.2zM3078.6,704.3h49.7v7.2h-49.7zM3135.2,704.3h7.2v7.2h-7.2zM3177.7,704.3h14.3v7.2h-14.3zM3198.9,704.3h7.2v7.2h-7.2zM3213.1,704.3h14.3v7.2h-14.3zM3248.5,704.3h7.2v7.2h-7.2zM3262.6,704.3h7.2v7.2h-7.2zM3276.8,704.3h14.3v7.2h-14.3zM3305.1,704.3h7.2v7.2h-7.2zM3078.6,711.4h7.2v7.2h-7.2zM3121.1,711.4h7.2v7.2h-7.2zM3135.2,711.4h7.2v7.2h-7.2zM3149.4,711.4h7.2v7.2h-7.2zM3170.6,711.4h14.3v7.2h-14.3zM3206,711.4h7.2v7.2h-7.2zM3227.3,711.4h7.2v7.2h-7.2zM3248.5,711.4h7.2v7.2h-7.2zM3276.8,711.4h14.3v7.2h-14.3zM3298,711.4h14.3v7.2h-14.3zM3078.6,718.5h7.2v7.2h-7.2zM3092.8,718.5h21.4v7.2h-21.4zM3121.1,718.5h7.2v7.2h-7.2zM3142.3,718.5h14.3v7.2h-14.3zM3163.5,718.5h7.2v7.2h-7.2zM3184.8,718.5h21.4v7.2h-21.4zM3227.3,718.5h7.2v7.2h-7.2zM3241.4,718.5h42.6v7.2h-42.6zM3078.6,725.6h7.2v7.2h-7.2zM3092.8,725.6h21.4v7.2h-21.4zM3121.1,725.6h7.2v7.2h-7.2zM3142.3,725.6h21.4v7.2h-21.4zM3191.9,725.6h7.2v7.2h-7.2zM3206,725.6h14.3v7.2h-14.3zM3227.3,725.6h7.2v7.2h-7.2zM3255.6,725.6h7.2v7.2h-7.2zM3269.7,725.6h35.5v7.2h-35.5zM3078.6,732.7h7.2v7.2h-7.2zM3092.8,732.7h21.4v7.2h-21.4zM3121.1,732.7h7.2v7.2h-7.2zM3135.2,732.7h7.2v7.2h-7.2zM3149.4,732.7h7.2v7.2h-7.2zM3163.5,732.7h7.2v7.2h-7.2zM3177.7,732.7h14.3v7.2h-14.3zM3198.9,732.7h7.2v7.2h-7.2zM3213.1,732.7h14.3v7.2h-14.3zM3241.4,732.7h14.3v7.2h-14.3zM3276.8,732.7h14.3v7.2h-14.3zM3298,732.7h14.3v7.2h-14.3zM3078.6,739.7h7.2v7.2h-7.2zM3121.1,739.7h7.2v7.2h-7.2zM3142.3,739.7h7.2v7.2h-7.2zM3163.5,739.7h7.2v7.2h-7.2zM3198.9,739.7h7.2v7.2h-7.2zM3213.1,739.7h14.3v7.2h-14.3zM3234.3,739.7h28.5v7.2h-28.5zM3283.9,739.7h14.3v7.2h-14.3zM3078.6,746.8h49.7v7.2h-49.7zM3142.3,746.8h14.3v7.2h-14.3zM3163.5,746.8h14.3v7.2h-14.3zM3184.8,746.8h7.2v7.2h-7.2zM3198.9,746.8h7.2v7.2h-7.2zM3248.5,746.8h21.4v7.2h-21.4zM3276.8,746.8h21.4v7.2h-21.4zM3305.1,746.8h7.2v7.2h-7.2z" fill="#000" shape-rendering="crispEdges"/>
<path d="M3078.6,936.3h49.8v7.2h-49.8zM3156.6,936.3h7.2v7.2h-7.2zM3192,936.3h14.3v7.2h-14.3zM3213.3,936.3h28.5v7.2h-28.5zM3248.7,936.3h7.2v7.2h-7.2zM3262.9,936.3h49.8v7.2h-49.8zM3078.6,943.4h7.2v7.2h-7.2zM3121.1,943.4h7.2v7.2h-7.2zM3149.5,943.4h14.3v7.2h-14.3zM3170.7,943.4h42.7v7.2h-42.7zM3220.4,943.4h7.2v7.2h-7.2zM3234.5,943.4h7.2v7.2h-7.2zM3248.7,943.4h7.2v7.2h-7.2zM3262.9,943.4h7.2v7.2h-7.2zM3305.4,943.4h7.2v7.2h-7.2zM3078.6,950.5h7.2v7.2h-7.2zM3092.8,950.5h21.4v7.2h-21.4zM3121.1,950.5h7.2v7.2h-7.2zM3135.3,950.5h7.2v7.2h-7.2zM3156.6,950.5h14.3v7.2h-14.3zM3177.8,950.5h14.3v7.2h-14.3zM3206.2,950.5h14.3v7.2h-14.3zM3227.4,950.5h28.5v7.2h-28.5zM3262.9,950.5h7.2v7.2h-7.2zM3277.1,950.5h21.4v7.2h-21.4zM3305.4,950.5h7.2v7.2h-7.2zM3078.6,957.6h7.2v7.2h-7.2zM3092.8,957.6h21.4v7.2h-21.4zM3121.1,957.6h7.2v7.2h-7.2zM3135.3,957.6h14.3v7.2h-14.3zM3163.7,957.6h14.3v7.2h-14.3zM3184.9,957.6h21.4v7.2h-21.4zM3227.4,957.6h7.2v7.2h-7.2zM3241.6,957.6h14.3v7.2h-14.3zM3262.9,957.6h7.2v7.2h-7.2zM3277.1,957.6h21.4v7.2h-21.4zM3305.4,957.6h7.2v7.2h-7.2zM3078.6,964.7h7.2v7.2h-7.2zM3092.8,964.7h21.4v7.2h-21.4zM3121.1,964.7h7.2v7.2h-7.2zM3142.4,964.7h7.2v7.2h-7.2zM3163.7,964.7h14.3v7.2h-14.3zM3184.9,964.7h7.2v7.2h-7.2zM3220.4,964.7h14.3v7.2h-14.3zM3241.6,964.7h7.2v7.2h-7.2zM3262.9,964.7h7.2v7.2h-7.2zM3277.1,964.7h21.4v7.2h-21.4zM3305.4,964.7h7.2v7.2h-7.2zM3078.6,971.7h7.2v7.2h-7.2zM3121.1,971.7h7.2v7.2h-7.2zM3149.5,971.7h14.3v7.2h-14.3zM3170.7,971.7h21.4v7.2h-21.4zM3213.3,971.7h7.2v7.2h-7.2zM3227.4,971.7h14.3v7.2h-14.3zM3248.7,971.7h7.2v7.2h-7.2zM3262.9,971.7h7.2v7.2h-7.2zM3305.4,971.7h7.2v7.2h-7.2zM3078.6,978.8h49.8v7.2h-49.8zM3135.3,978.8h7.2v7.2h-7.2zM3149.5,978.8h7.2v7.2h-7.2zM3163.7,978.8h7.2v7.2h-7.2zM3177.8,978.8h7.2v7.2h-7.2zM3192,978.8h7.2v7.2h-7.2zM3206.2,978.8h7.2v7.2h-7.2zM3220.4,978.8h7.2v7.2h-7.2zM3234.5,978.8h7.2v7.2h-7.2zM3248.7,978.8h7.2v7.2h-7.2zM3262.9,978.8h49.8v7.2h-49.8zM3142.4,985.9h7.2v7.2h-7.2zM3156.6,985.9h35.6v7.2h-35.6zM3206.2,985.9h21.4v7.2h-21.4zM3241.6,985.9h7.2v7.2h-7.2zM3099.9,993h14.3v7.2h-14.3zM3121.1,993h14.3v7.2h-14.3zM3149.5,993h7.2v7.2h-7.2zM3184.9,993h7.2v7.2h-7.2zM3199.1,993h14.3v7.2h-14.3zM3234.5,993h14.3v7.2h-14.3zM3284.1,993h14.3v7.2h-14.3zM3085.7,1000.1h7.2v7.2h-7.2zM3099.9,1000.1h7.2v7.2h-7.2zM3114,1000.1h7.2v7.2h-7.2zM3135.3,1000.1h28.5v7.2h-28.5zM3192,1000.1h7.2v7.2h-7.2zM3206.2,1000.1h7.2v7.2h-7.2zM3220.4,1000.1h7.2v7.2h-7.2zM3241.6,1000.1h21.4v7.2h-21.4zM3270,1000.1h21.4v7.2h-21.4zM3085.7,1007.2h7.2v7.2h-7.2zM3099.9,1007.2h7.2v7.2h-7.2zM3121.1,1007.2h7.2v7.2h-7.2zM3135.3,1007.2h7.2v7.2h-7.2zM3149.5,1007.2h7.2v7.2h-7.2zM3163.7,1007.2h21.4v7.2h-21.4zM3192,1007.2h21.4v7.2h-21.4zM3227.4,1007.2h7.2v7.2h-7.2zM3241.6,1007.2h7.2v7.2h-7.2zM3270,1007.2h7.2v7.2h-7.2zM3284.1,1007.2h7.2v7.2h-7.2zM3298.3,1007.2h14.3v7.2h-14.3zM3078.6,1014.3h7.2v7.2h-7.2zM3092.8,1014.3h14.3v7.2h-14.3zM3114,1014.3h7.2v7.2h-7.2zM3149.5,1014.3h14.3v7.2h-14.3zM3170.7,1014.3h14.3v7.2h-14.3zM3199.1,1014.3h7.2v7.2h-7.2zM3220.4,1014.3h7.2v7.2h-7.2zM3270,1014.3h14.3v7.2h-14.3zM3291.2,1014.3h7.2v7.2h-7.2zM3078.6,1021.4h14.3v7.2h-14.3zM3107,1021.4h21.4v7.2h-21.4zM3135.3,1021.4h14.3v7.2h-14.3zM3163.7,1021.4h7.2v7.2h-7.2zM3177.8,1021.4h42.7v7.2h-42.7zM3227.4,1021.4h21.4v7.2h-21.4zM3262.9,1021.4h7.2v7.2h-7.2zM3277.1,1021.4h7.2v7.2h-7.2zM3092.8,1028.4h7.2v7.2h-7.2zM3107,1028.4h7.2v7.2h-7.2zM3135.3,1028.4h21.4v7.2h-21.4zM3163.7,1028.4h14.3v7.2h-14.3zM3184.9,1028.4h14.3v7.2h-14.3zM3220.4,1028.4h28.5v7.2h-28.5zM3284.1,1028.4h21.4v7.2h-21.4zM3085.7,1035.5h28.5v7.2h-28.5zM3121.1,1035.5h7.2v7.2h-7.2zM3149.5,1035.5h35.6v7.2h-35.6zM3206.2,1035.5h7.2v7.2h-7.2zM3220.4,1035.5h7.2v7.2h-7.2zM3262.9,1035.5h7.2v7.2h-7.2zM3277.1,1035.5h14.3v7.2h-14.3zM3085.7,1042.6h14.3v7.2h-14.3zM3142.4,1042.6h7.2v7.2h-7.2zM3199.1,1042.6h14.3v7.2h-14.3zM3241.6,1042.6h21.4v7.2h-21.4zM3277.1,1042.6h7.2v7.2h-7.2zM3291.2,1042.6h14.3v7.2h-14.3zM3099.9,1049.7h7.2v7.2h-7.2zM3121.1,1049.7h7.2v7.2h-7.2zM3142.4,1049.7h28.5v7.2h-28.5zM3184.9,1049.7h7.2v7.2h-7.2zM3241.6,1049.7h7.2v7.2h-7.2zM3262.9,1049.7h35.6v7.2h-35.6zM3078.6,1056.8h7.2v7.2h-7.2zM3114,1056.8h7.2v7.2h-7.2zM3135.3,1056.8h7.2v7.2h-7.2zM3149.5,1056.8h7.2v7.2h-7.2zM3163.7,1056.8h7.2v7.2h-7.2zM3177.8,1056.8h7.2v7.2h-7.2zM3192,1056.8h7.2v7.2h-7.2zM3206.2,1056.8h7.2v7.2h-7.2zM3220.4,1056.8h7.2v7.2h-7.2zM3234.5,1056.8h7.2v7.2h-7.2zM3248.7,1056.8h21.4v7.2h-21.4zM3277.1,1056.8h14.3v7.2h-14.3zM3298.3,1056.8h14.3v7.2h-14.3zM3078.6,1063.9h14.3v7.2h-14.3zM3099.9,1063.9h7.2v7.2h-7.2zM3121.1,1063.9h7.2v7.2h-7.2zM3170.7,1063.9h7.2v7.2h-7.2zM3184.9,1063.9h7.2v7.2h-7.2zM3227.4,1063.9h21.4v7.2h-21.4zM3277.1,1063.9h35.6v7.2h-35.6zM3092.8,1071h21.4v7.2h-21.4zM3149.5,1071h7.2v7.2h-7.2zM3163.7,1071h7.2v7.2h-7.2zM3192,1071h14.3v7.2h-14.3zM3213.3,1071h14.3v7.2h-14.3zM3234.5,1071h28.5v7.2h-28.5zM3270,1071h7.2v7.2h-7.2zM3284.1,1071h28.5v7.2h-28.5zM3085.7,1078.1h7.2v7.2h-7.2zM3107,1078.1h28.5v7.2h-28.5zM3142.4,1078.1h7.2v7.2h-7.2zM3163.7,1078.1h14.3v7.2h-14.3zM3184.9,1078.1h7.2v7.2h-7.2zM3220.4,1078.1h7.2v7.2h-7.2zM3262.9,1078.1h14.3v7.2h-14.3zM3284.1,1078.1h7.2v7.2h-7.2zM3298.3,1078.1h7.2v7.2h-7.2zM3078.6,1085.1h7.2v7.2h-7.2zM3092.8,1085.1h7.2v7.2h-7.2zM3135.3,1085.1h7.2v7.2h-7.2zM3163.7,1085.1h7.2v7.2h-7.2zM3177.8,1085.1h7.2v7.2h-7.2zM3199.1,1085.1h7.2v7.2h-7.2zM3213.3,1085.1h7.2v7.2h-7.2zM3248.7,1085.1h7.2v7.2h-7.2zM3262.9,1085.1h21.4v7.2h-21.4zM3078.6,1092.2h7.2v7.2h-7.2zM3092.8,1092.2h7.2v7.2h-7.2zM3114,1092.2h35.6v7.2h-35.6zM3170.7,1092.2h14.3v7.2h-14.3zM3192,1092.2h7.2v7.2h-7.2zM3213.3,1092.2h21.4v7.2h-21.4zM3241.6,1092.2h7.2v7.2h-7.2zM3262.9,1092.2h7.2v7.2h-7.2zM3277.1,1092.2h7.2v7.2h-7.2zM3291.2,1092.2h7.2v7.2h-7.2zM3305.4,1092.2h7.2v7.2h-7.2zM3078.6,1099.3h7.2v7.2h-7.2zM3092.8,1099.3h21.4v7.2h-21.4zM3128.2,1099.3h21.4v7.2h-21.4zM3156.6,1099.3h14.3v7.2h-14.3zM3184.9,1099.3h14.3v7.2h-14.3zM3206.2,1099.3h21.4v7.2h-21.4zM3234.5,1099.3h21.4v7.2h-21.4zM3270,1099.3h14.3v7.2h-14.3zM3291.2,1099.3h7.2v7.2h-7.2zM3305.4,1099.3h7.2v7.2h-7.2zM3078.6,1106.4h21.4v7.2h-21.4zM3114,1106.4h14.3v7.2h-14.3zM3135.3,1106.4h7.2v7.2h-7.2zM3149.5,1106.4h7.2v7.2h-7.2zM3163.7,1106.4h7.2v7.2h-7.2zM3184.9,1106.4h14.3v7.2h-14.3zM3213.3,1106.4h14.3v7.2h-14.3zM3234.5,1106.4h56.9v7.2h-56.9zM3298.3,1106.4h14.3v7.2h-14.3zM3135.3,1113.5h7.2v7.2h-7.2zM3177.8,1113.5h21.4v7.2h-21.4zM3213.3,1113.5h7.2v7.2h-7.2zM3227.4,1113.5h28.5v7.2h-28.5zM3277.1,1113.5h7.2v7.2h-7.2zM3291.2,1113.5h14.3v7.2h-14.3zM3078.6,1120.6h49.8v7.2h-49.8zM3135.3,1120.6h14.3v7.2h-14.3zM3156.6,1120.6h7.2v7.2h-7.2zM3170.7,1120.6h7.2v7.2h-7.2zM3184.9,1120.6h7.2v7.2h-7.2zM3206.2,1120.6h14.3v7.2h-14.3zM3241.6,1120.6h14.3v7.2h-14.3zM3262.9,1120.6h7.2v7.2h-7.2zM3277.1,1120.6h7.2v7.2h-7.2zM3078.6,1127.7h7.2v7.2h-7.2zM3121.1,1127.7h7.2v7.2h-7.2zM3142.4,1127.7h7.2v7.2h-7.2zM3163.7,1127.7h7.2v7.2h-7.2zM3192,1127.7h14.3v7.2h-14.3zM3220.4,1127.7h21.4v7.2h-21.4zM3248.7,1127.7h7.2v7.2h-7.2zM3277.1,1127.7h28.5v7.2h-28.5zM3078.6,1134.8h7.2v7.2h-7.2zM3092.8,1134.8h21.4v7.2h-21.4zM3121.1,1134.8h7.2v7.2h-7.2zM3135.3,1134.8h21.4v7.2h-21.4zM3163.7,1134.8h7.2v7.2h-7.2zM3184.9,1134.8h7.2v7.2h-7.2zM3199.1,1134.8h21.4v7.2h-21.4zM3227.4,1134.8h56.9v7.2h-56.9zM3298.3,1134.8h7.2v7.2h-7.2zM3078.6,1141.8h7.2v7.2h-7.2zM3092.8,1141.8h21.4v7.2h-21.4zM3121.1,1141.8h7.2v7.2h-7.2zM3135.3,1141.8h21.4v7.2h-21.4zM3163.7,1141.8h7.2v7.2h-7.2zM3177.8,1141.8h7.2v7.2h-7.2zM3199.1,1141.8h21.4v7.2h-21.4zM3227.4,1141.8h35.6v7.2h-35.6zM3270,1141.8h7.2v7.2h-7.2zM3298.3,1141.8h7.2v7.2h-7.2zM3078.6,1148.9h7.2v7.2h-7.2zM3092.8,1148.9h21.4v7.2h-21.4zM3121.1,1148.9h7.2v7.2h-7.2zM3149.5,1148.9h7.2v7.2h-7.2zM3163.7,1148.9h7.2v7.2h-7.2zM3177.8,1148.9h14.3v7.2h-14.3zM3199.1,1148.9h7.2v7.2h-7.2zM3213.3,1148.9h14.3v7.2h-14.3zM3241.6,1148.9h14.3v7.2h-14.3zM3277.1,1148.9h14.3v7.2h-14.3zM3298.3,1148.9h14.3v7.2h-14.3zM3078.6,1156h7.2v7.2h-7.2zM3121.1,1156h7.2v7.2h-7.2zM3142.4,1156h7.2v7.2h-7.2zM3170.7,1156h14.3v7.2h-14.3zM3199.1,1156h14.3v7.2h-14.3zM3234.5,1156h14.3v7.2h-14.3zM3262.9,1156h7.2v7.2h-7.2zM3284.1,1156h7.2v7.2h-7.2zM3298.3,1156h14.3v7.2h-14.3zM3078.6,1163.1h49.8v7.2h-49.8zM3142.4,1163.1h49.8v7.2h-49.8zM3220.4,1163.1h7.2v7.2h-7.2zM3241.6,1163.1h21.4v7.2h-21.4zM3277.1,1163.1h7.2v7.2h-7.2zM3291.2,1163.1h7.2v7.2h-7.2z" fill="#000" shape-rendering="crispEdges"/>
</svg>
</body></html>
